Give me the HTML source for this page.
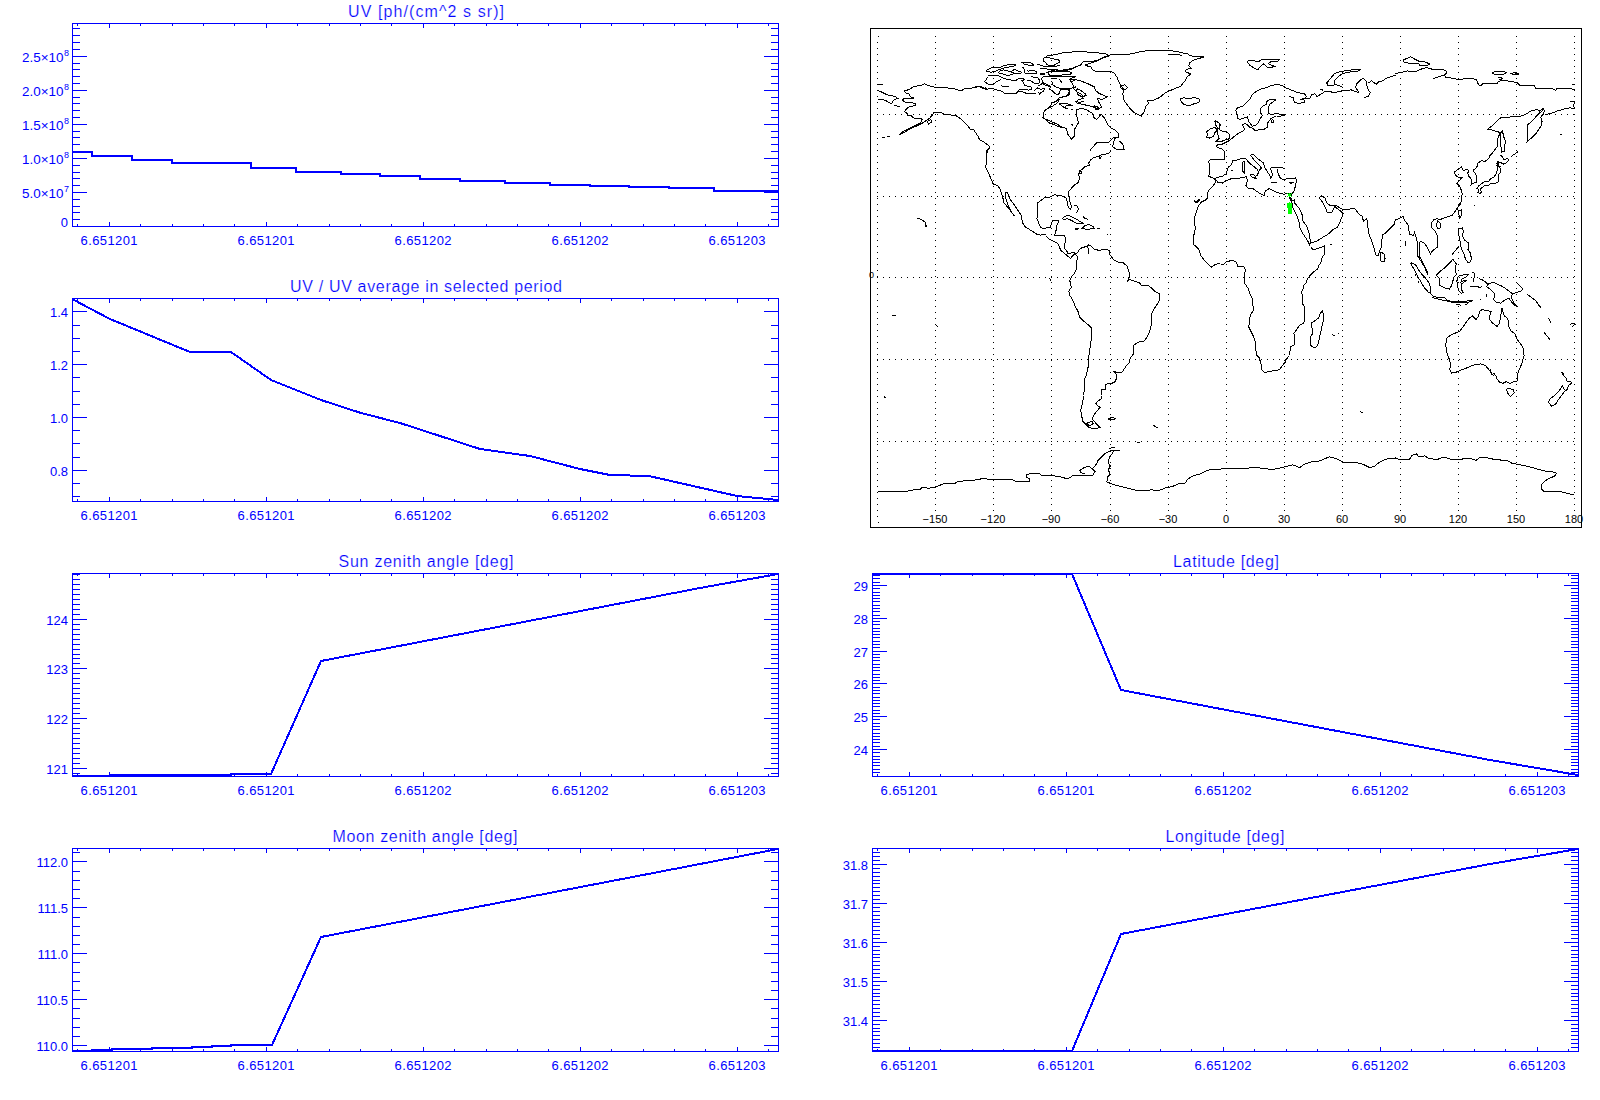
<!DOCTYPE html>
<html><head><meta charset="utf-8"><style>
html,body{margin:0;padding:0;background:#fff;overflow:hidden;width:1600px;height:1100px;}
svg{display:block;font-family:"Liberation Sans",sans-serif;}
</style></head><body>
<svg width="1600" height="1100" viewBox="0 0 1600 1100">
<rect width="1600" height="1100" fill="#fff"/>
<rect x="72" y="23" width="707" height="1" fill="#0000ff"/>
<rect x="72" y="226" width="707" height="1" fill="#0000ff"/>
<rect x="72" y="23" width="1" height="204" fill="#0000ff"/>
<rect x="778" y="23" width="1" height="204" fill="#0000ff"/>
<rect x="109" y="222" width="1" height="5" fill="#0000ff"/>
<rect x="109" y="23" width="1" height="5" fill="#0000ff"/>
<rect x="266" y="222" width="1" height="5" fill="#0000ff"/>
<rect x="266" y="23" width="1" height="5" fill="#0000ff"/>
<rect x="423" y="222" width="1" height="5" fill="#0000ff"/>
<rect x="423" y="23" width="1" height="5" fill="#0000ff"/>
<rect x="580" y="222" width="1" height="5" fill="#0000ff"/>
<rect x="580" y="23" width="1" height="5" fill="#0000ff"/>
<rect x="737" y="222" width="1" height="5" fill="#0000ff"/>
<rect x="737" y="23" width="1" height="5" fill="#0000ff"/>
<rect x="77" y="224" width="1" height="3" fill="#0000ff"/>
<rect x="77" y="23" width="1" height="3" fill="#0000ff"/>
<rect x="109" y="224" width="1" height="3" fill="#0000ff"/>
<rect x="109" y="23" width="1" height="3" fill="#0000ff"/>
<rect x="140" y="224" width="1" height="3" fill="#0000ff"/>
<rect x="140" y="23" width="1" height="3" fill="#0000ff"/>
<rect x="172" y="224" width="1" height="3" fill="#0000ff"/>
<rect x="172" y="23" width="1" height="3" fill="#0000ff"/>
<rect x="203" y="224" width="1" height="3" fill="#0000ff"/>
<rect x="203" y="23" width="1" height="3" fill="#0000ff"/>
<rect x="234" y="224" width="1" height="3" fill="#0000ff"/>
<rect x="234" y="23" width="1" height="3" fill="#0000ff"/>
<rect x="266" y="224" width="1" height="3" fill="#0000ff"/>
<rect x="266" y="23" width="1" height="3" fill="#0000ff"/>
<rect x="297" y="224" width="1" height="3" fill="#0000ff"/>
<rect x="297" y="23" width="1" height="3" fill="#0000ff"/>
<rect x="329" y="224" width="1" height="3" fill="#0000ff"/>
<rect x="329" y="23" width="1" height="3" fill="#0000ff"/>
<rect x="360" y="224" width="1" height="3" fill="#0000ff"/>
<rect x="360" y="23" width="1" height="3" fill="#0000ff"/>
<rect x="391" y="224" width="1" height="3" fill="#0000ff"/>
<rect x="391" y="23" width="1" height="3" fill="#0000ff"/>
<rect x="423" y="224" width="1" height="3" fill="#0000ff"/>
<rect x="423" y="23" width="1" height="3" fill="#0000ff"/>
<rect x="454" y="224" width="1" height="3" fill="#0000ff"/>
<rect x="454" y="23" width="1" height="3" fill="#0000ff"/>
<rect x="486" y="224" width="1" height="3" fill="#0000ff"/>
<rect x="486" y="23" width="1" height="3" fill="#0000ff"/>
<rect x="517" y="224" width="1" height="3" fill="#0000ff"/>
<rect x="517" y="23" width="1" height="3" fill="#0000ff"/>
<rect x="548" y="224" width="1" height="3" fill="#0000ff"/>
<rect x="548" y="23" width="1" height="3" fill="#0000ff"/>
<rect x="580" y="224" width="1" height="3" fill="#0000ff"/>
<rect x="580" y="23" width="1" height="3" fill="#0000ff"/>
<rect x="611" y="224" width="1" height="3" fill="#0000ff"/>
<rect x="611" y="23" width="1" height="3" fill="#0000ff"/>
<rect x="643" y="224" width="1" height="3" fill="#0000ff"/>
<rect x="643" y="23" width="1" height="3" fill="#0000ff"/>
<rect x="674" y="224" width="1" height="3" fill="#0000ff"/>
<rect x="674" y="23" width="1" height="3" fill="#0000ff"/>
<rect x="705" y="224" width="1" height="3" fill="#0000ff"/>
<rect x="705" y="23" width="1" height="3" fill="#0000ff"/>
<rect x="737" y="224" width="1" height="3" fill="#0000ff"/>
<rect x="737" y="23" width="1" height="3" fill="#0000ff"/>
<rect x="768" y="224" width="1" height="3" fill="#0000ff"/>
<rect x="768" y="23" width="1" height="3" fill="#0000ff"/>
<rect x="72" y="192" width="15" height="1" fill="#0000ff"/>
<rect x="764" y="192" width="15" height="1" fill="#0000ff"/>
<rect x="72" y="158" width="15" height="1" fill="#0000ff"/>
<rect x="764" y="158" width="15" height="1" fill="#0000ff"/>
<rect x="72" y="124" width="15" height="1" fill="#0000ff"/>
<rect x="764" y="124" width="15" height="1" fill="#0000ff"/>
<rect x="72" y="90" width="15" height="1" fill="#0000ff"/>
<rect x="764" y="90" width="15" height="1" fill="#0000ff"/>
<rect x="72" y="56" width="15" height="1" fill="#0000ff"/>
<rect x="764" y="56" width="15" height="1" fill="#0000ff"/>
<rect x="72" y="219" width="8" height="1" fill="#0000ff"/>
<rect x="771" y="219" width="8" height="1" fill="#0000ff"/>
<rect x="72" y="212" width="8" height="1" fill="#0000ff"/>
<rect x="771" y="212" width="8" height="1" fill="#0000ff"/>
<rect x="72" y="206" width="8" height="1" fill="#0000ff"/>
<rect x="771" y="206" width="8" height="1" fill="#0000ff"/>
<rect x="72" y="199" width="8" height="1" fill="#0000ff"/>
<rect x="771" y="199" width="8" height="1" fill="#0000ff"/>
<rect x="72" y="185" width="8" height="1" fill="#0000ff"/>
<rect x="771" y="185" width="8" height="1" fill="#0000ff"/>
<rect x="72" y="178" width="8" height="1" fill="#0000ff"/>
<rect x="771" y="178" width="8" height="1" fill="#0000ff"/>
<rect x="72" y="172" width="8" height="1" fill="#0000ff"/>
<rect x="771" y="172" width="8" height="1" fill="#0000ff"/>
<rect x="72" y="165" width="8" height="1" fill="#0000ff"/>
<rect x="771" y="165" width="8" height="1" fill="#0000ff"/>
<rect x="72" y="151" width="8" height="1" fill="#0000ff"/>
<rect x="771" y="151" width="8" height="1" fill="#0000ff"/>
<rect x="72" y="144" width="8" height="1" fill="#0000ff"/>
<rect x="771" y="144" width="8" height="1" fill="#0000ff"/>
<rect x="72" y="137" width="8" height="1" fill="#0000ff"/>
<rect x="771" y="137" width="8" height="1" fill="#0000ff"/>
<rect x="72" y="131" width="8" height="1" fill="#0000ff"/>
<rect x="771" y="131" width="8" height="1" fill="#0000ff"/>
<rect x="72" y="117" width="8" height="1" fill="#0000ff"/>
<rect x="771" y="117" width="8" height="1" fill="#0000ff"/>
<rect x="72" y="110" width="8" height="1" fill="#0000ff"/>
<rect x="771" y="110" width="8" height="1" fill="#0000ff"/>
<rect x="72" y="103" width="8" height="1" fill="#0000ff"/>
<rect x="771" y="103" width="8" height="1" fill="#0000ff"/>
<rect x="72" y="97" width="8" height="1" fill="#0000ff"/>
<rect x="771" y="97" width="8" height="1" fill="#0000ff"/>
<rect x="72" y="83" width="8" height="1" fill="#0000ff"/>
<rect x="771" y="83" width="8" height="1" fill="#0000ff"/>
<rect x="72" y="76" width="8" height="1" fill="#0000ff"/>
<rect x="771" y="76" width="8" height="1" fill="#0000ff"/>
<rect x="72" y="69" width="8" height="1" fill="#0000ff"/>
<rect x="771" y="69" width="8" height="1" fill="#0000ff"/>
<rect x="72" y="63" width="8" height="1" fill="#0000ff"/>
<rect x="771" y="63" width="8" height="1" fill="#0000ff"/>
<rect x="72" y="49" width="8" height="1" fill="#0000ff"/>
<rect x="771" y="49" width="8" height="1" fill="#0000ff"/>
<rect x="72" y="42" width="8" height="1" fill="#0000ff"/>
<rect x="771" y="42" width="8" height="1" fill="#0000ff"/>
<rect x="72" y="35" width="8" height="1" fill="#0000ff"/>
<rect x="771" y="35" width="8" height="1" fill="#0000ff"/>
<rect x="72" y="28" width="8" height="1" fill="#0000ff"/>
<rect x="771" y="28" width="8" height="1" fill="#0000ff"/>
<text x="426" y="17" font-size="16" text-anchor="middle" fill="#0000ff" textLength="156" lengthAdjust="spacing" stroke="#fff" stroke-width="0.2">UV [ph/(cm^2 s sr)]</text>
<text x="109" y="245" font-size="13" text-anchor="middle" fill="#0000ff" textLength="57" lengthAdjust="spacing">6.651201</text>
<text x="266" y="245" font-size="13" text-anchor="middle" fill="#0000ff" textLength="57" lengthAdjust="spacing">6.651201</text>
<text x="423" y="245" font-size="13" text-anchor="middle" fill="#0000ff" textLength="57" lengthAdjust="spacing">6.651202</text>
<text x="580" y="245" font-size="13" text-anchor="middle" fill="#0000ff" textLength="57" lengthAdjust="spacing">6.651202</text>
<text x="737" y="245" font-size="13" text-anchor="middle" fill="#0000ff" textLength="57" lengthAdjust="spacing">6.651203</text>
<polyline points="72,152 92,152 92,156 132,156 132,160 172,160 172,163 251,163 251,168 296,168 296,172 341,172 341,174 380,174 380,176 420,176 420,179 460,179 460,181 505,181 505,183 550,183 550,185 590,185 590,186 629,186 629,187 669,187 669,188 714,188 714,191 778,191" fill="none" stroke="#0000ff" stroke-width="2" stroke-linejoin="miter" shape-rendering="crispEdges"/>
<text x="22" y="62" font-size="13" fill="#0000ff" textLength="41.5" lengthAdjust="spacingAndGlyphs">2.5×10</text>
<text x="64" y="56" font-size="9" fill="#0000ff">8</text>
<text x="22" y="96" font-size="13" fill="#0000ff" textLength="41.5" lengthAdjust="spacingAndGlyphs">2.0×10</text>
<text x="64" y="90" font-size="9" fill="#0000ff">8</text>
<text x="22" y="130" font-size="13" fill="#0000ff" textLength="41.5" lengthAdjust="spacingAndGlyphs">1.5×10</text>
<text x="64" y="124" font-size="9" fill="#0000ff">8</text>
<text x="22" y="164" font-size="13" fill="#0000ff" textLength="41.5" lengthAdjust="spacingAndGlyphs">1.0×10</text>
<text x="64" y="158" font-size="9" fill="#0000ff">8</text>
<text x="22" y="198" font-size="13" fill="#0000ff" textLength="41.5" lengthAdjust="spacingAndGlyphs">5.0×10</text>
<text x="64" y="192" font-size="9" fill="#0000ff">7</text>
<text x="68" y="227" font-size="13" text-anchor="end" fill="#0000ff">0</text>
<rect x="72" y="298" width="707" height="1" fill="#0000ff"/>
<rect x="72" y="501" width="707" height="1" fill="#0000ff"/>
<rect x="72" y="298" width="1" height="204" fill="#0000ff"/>
<rect x="778" y="298" width="1" height="204" fill="#0000ff"/>
<rect x="109" y="497" width="1" height="5" fill="#0000ff"/>
<rect x="109" y="298" width="1" height="5" fill="#0000ff"/>
<rect x="266" y="497" width="1" height="5" fill="#0000ff"/>
<rect x="266" y="298" width="1" height="5" fill="#0000ff"/>
<rect x="423" y="497" width="1" height="5" fill="#0000ff"/>
<rect x="423" y="298" width="1" height="5" fill="#0000ff"/>
<rect x="580" y="497" width="1" height="5" fill="#0000ff"/>
<rect x="580" y="298" width="1" height="5" fill="#0000ff"/>
<rect x="737" y="497" width="1" height="5" fill="#0000ff"/>
<rect x="737" y="298" width="1" height="5" fill="#0000ff"/>
<rect x="77" y="499" width="1" height="3" fill="#0000ff"/>
<rect x="77" y="298" width="1" height="3" fill="#0000ff"/>
<rect x="109" y="499" width="1" height="3" fill="#0000ff"/>
<rect x="109" y="298" width="1" height="3" fill="#0000ff"/>
<rect x="140" y="499" width="1" height="3" fill="#0000ff"/>
<rect x="140" y="298" width="1" height="3" fill="#0000ff"/>
<rect x="172" y="499" width="1" height="3" fill="#0000ff"/>
<rect x="172" y="298" width="1" height="3" fill="#0000ff"/>
<rect x="203" y="499" width="1" height="3" fill="#0000ff"/>
<rect x="203" y="298" width="1" height="3" fill="#0000ff"/>
<rect x="234" y="499" width="1" height="3" fill="#0000ff"/>
<rect x="234" y="298" width="1" height="3" fill="#0000ff"/>
<rect x="266" y="499" width="1" height="3" fill="#0000ff"/>
<rect x="266" y="298" width="1" height="3" fill="#0000ff"/>
<rect x="297" y="499" width="1" height="3" fill="#0000ff"/>
<rect x="297" y="298" width="1" height="3" fill="#0000ff"/>
<rect x="329" y="499" width="1" height="3" fill="#0000ff"/>
<rect x="329" y="298" width="1" height="3" fill="#0000ff"/>
<rect x="360" y="499" width="1" height="3" fill="#0000ff"/>
<rect x="360" y="298" width="1" height="3" fill="#0000ff"/>
<rect x="391" y="499" width="1" height="3" fill="#0000ff"/>
<rect x="391" y="298" width="1" height="3" fill="#0000ff"/>
<rect x="423" y="499" width="1" height="3" fill="#0000ff"/>
<rect x="423" y="298" width="1" height="3" fill="#0000ff"/>
<rect x="454" y="499" width="1" height="3" fill="#0000ff"/>
<rect x="454" y="298" width="1" height="3" fill="#0000ff"/>
<rect x="486" y="499" width="1" height="3" fill="#0000ff"/>
<rect x="486" y="298" width="1" height="3" fill="#0000ff"/>
<rect x="517" y="499" width="1" height="3" fill="#0000ff"/>
<rect x="517" y="298" width="1" height="3" fill="#0000ff"/>
<rect x="548" y="499" width="1" height="3" fill="#0000ff"/>
<rect x="548" y="298" width="1" height="3" fill="#0000ff"/>
<rect x="580" y="499" width="1" height="3" fill="#0000ff"/>
<rect x="580" y="298" width="1" height="3" fill="#0000ff"/>
<rect x="611" y="499" width="1" height="3" fill="#0000ff"/>
<rect x="611" y="298" width="1" height="3" fill="#0000ff"/>
<rect x="643" y="499" width="1" height="3" fill="#0000ff"/>
<rect x="643" y="298" width="1" height="3" fill="#0000ff"/>
<rect x="674" y="499" width="1" height="3" fill="#0000ff"/>
<rect x="674" y="298" width="1" height="3" fill="#0000ff"/>
<rect x="705" y="499" width="1" height="3" fill="#0000ff"/>
<rect x="705" y="298" width="1" height="3" fill="#0000ff"/>
<rect x="737" y="499" width="1" height="3" fill="#0000ff"/>
<rect x="737" y="298" width="1" height="3" fill="#0000ff"/>
<rect x="768" y="499" width="1" height="3" fill="#0000ff"/>
<rect x="768" y="298" width="1" height="3" fill="#0000ff"/>
<rect x="72" y="311" width="15" height="1" fill="#0000ff"/>
<rect x="764" y="311" width="15" height="1" fill="#0000ff"/>
<rect x="72" y="364" width="15" height="1" fill="#0000ff"/>
<rect x="764" y="364" width="15" height="1" fill="#0000ff"/>
<rect x="72" y="417" width="15" height="1" fill="#0000ff"/>
<rect x="764" y="417" width="15" height="1" fill="#0000ff"/>
<rect x="72" y="470" width="15" height="1" fill="#0000ff"/>
<rect x="764" y="470" width="15" height="1" fill="#0000ff"/>
<rect x="72" y="325" width="8" height="1" fill="#0000ff"/>
<rect x="771" y="325" width="8" height="1" fill="#0000ff"/>
<rect x="72" y="338" width="8" height="1" fill="#0000ff"/>
<rect x="771" y="338" width="8" height="1" fill="#0000ff"/>
<rect x="72" y="351" width="8" height="1" fill="#0000ff"/>
<rect x="771" y="351" width="8" height="1" fill="#0000ff"/>
<rect x="72" y="377" width="8" height="1" fill="#0000ff"/>
<rect x="771" y="377" width="8" height="1" fill="#0000ff"/>
<rect x="72" y="391" width="8" height="1" fill="#0000ff"/>
<rect x="771" y="391" width="8" height="1" fill="#0000ff"/>
<rect x="72" y="404" width="8" height="1" fill="#0000ff"/>
<rect x="771" y="404" width="8" height="1" fill="#0000ff"/>
<rect x="72" y="430" width="8" height="1" fill="#0000ff"/>
<rect x="771" y="430" width="8" height="1" fill="#0000ff"/>
<rect x="72" y="443" width="8" height="1" fill="#0000ff"/>
<rect x="771" y="443" width="8" height="1" fill="#0000ff"/>
<rect x="72" y="457" width="8" height="1" fill="#0000ff"/>
<rect x="771" y="457" width="8" height="1" fill="#0000ff"/>
<rect x="72" y="483" width="8" height="1" fill="#0000ff"/>
<rect x="771" y="483" width="8" height="1" fill="#0000ff"/>
<rect x="72" y="496" width="8" height="1" fill="#0000ff"/>
<rect x="771" y="496" width="8" height="1" fill="#0000ff"/>
<text x="426" y="292" font-size="16" text-anchor="middle" fill="#0000ff" textLength="272" lengthAdjust="spacing" stroke="#fff" stroke-width="0.2">UV / UV average in selected period</text>
<text x="109" y="520" font-size="13" text-anchor="middle" fill="#0000ff" textLength="57" lengthAdjust="spacing">6.651201</text>
<text x="266" y="520" font-size="13" text-anchor="middle" fill="#0000ff" textLength="57" lengthAdjust="spacing">6.651201</text>
<text x="423" y="520" font-size="13" text-anchor="middle" fill="#0000ff" textLength="57" lengthAdjust="spacing">6.651202</text>
<text x="580" y="520" font-size="13" text-anchor="middle" fill="#0000ff" textLength="57" lengthAdjust="spacing">6.651202</text>
<text x="737" y="520" font-size="13" text-anchor="middle" fill="#0000ff" textLength="57" lengthAdjust="spacing">6.651203</text>
<text x="68" y="317" font-size="13" text-anchor="end" fill="#0000ff">1.4</text>
<text x="68" y="370" font-size="13" text-anchor="end" fill="#0000ff">1.2</text>
<text x="68" y="423" font-size="13" text-anchor="end" fill="#0000ff">1.0</text>
<text x="68" y="476" font-size="13" text-anchor="end" fill="#0000ff">0.8</text>
<polyline points="72,299 110,319 190,352 231,352 271,380 321,400 361,413 400,423 480,449 530,456 580,469 610,475 649,476 737,496 778,500" fill="none" stroke="#0000ff" stroke-width="2" stroke-linejoin="miter" shape-rendering="crispEdges"/>
<rect x="72" y="573" width="707" height="1" fill="#0000ff"/>
<rect x="72" y="776" width="707" height="1" fill="#0000ff"/>
<rect x="72" y="573" width="1" height="204" fill="#0000ff"/>
<rect x="778" y="573" width="1" height="204" fill="#0000ff"/>
<rect x="109" y="772" width="1" height="5" fill="#0000ff"/>
<rect x="109" y="573" width="1" height="5" fill="#0000ff"/>
<rect x="266" y="772" width="1" height="5" fill="#0000ff"/>
<rect x="266" y="573" width="1" height="5" fill="#0000ff"/>
<rect x="423" y="772" width="1" height="5" fill="#0000ff"/>
<rect x="423" y="573" width="1" height="5" fill="#0000ff"/>
<rect x="580" y="772" width="1" height="5" fill="#0000ff"/>
<rect x="580" y="573" width="1" height="5" fill="#0000ff"/>
<rect x="737" y="772" width="1" height="5" fill="#0000ff"/>
<rect x="737" y="573" width="1" height="5" fill="#0000ff"/>
<rect x="77" y="774" width="1" height="3" fill="#0000ff"/>
<rect x="77" y="573" width="1" height="3" fill="#0000ff"/>
<rect x="109" y="774" width="1" height="3" fill="#0000ff"/>
<rect x="109" y="573" width="1" height="3" fill="#0000ff"/>
<rect x="140" y="774" width="1" height="3" fill="#0000ff"/>
<rect x="140" y="573" width="1" height="3" fill="#0000ff"/>
<rect x="172" y="774" width="1" height="3" fill="#0000ff"/>
<rect x="172" y="573" width="1" height="3" fill="#0000ff"/>
<rect x="203" y="774" width="1" height="3" fill="#0000ff"/>
<rect x="203" y="573" width="1" height="3" fill="#0000ff"/>
<rect x="234" y="774" width="1" height="3" fill="#0000ff"/>
<rect x="234" y="573" width="1" height="3" fill="#0000ff"/>
<rect x="266" y="774" width="1" height="3" fill="#0000ff"/>
<rect x="266" y="573" width="1" height="3" fill="#0000ff"/>
<rect x="297" y="774" width="1" height="3" fill="#0000ff"/>
<rect x="297" y="573" width="1" height="3" fill="#0000ff"/>
<rect x="329" y="774" width="1" height="3" fill="#0000ff"/>
<rect x="329" y="573" width="1" height="3" fill="#0000ff"/>
<rect x="360" y="774" width="1" height="3" fill="#0000ff"/>
<rect x="360" y="573" width="1" height="3" fill="#0000ff"/>
<rect x="391" y="774" width="1" height="3" fill="#0000ff"/>
<rect x="391" y="573" width="1" height="3" fill="#0000ff"/>
<rect x="423" y="774" width="1" height="3" fill="#0000ff"/>
<rect x="423" y="573" width="1" height="3" fill="#0000ff"/>
<rect x="454" y="774" width="1" height="3" fill="#0000ff"/>
<rect x="454" y="573" width="1" height="3" fill="#0000ff"/>
<rect x="486" y="774" width="1" height="3" fill="#0000ff"/>
<rect x="486" y="573" width="1" height="3" fill="#0000ff"/>
<rect x="517" y="774" width="1" height="3" fill="#0000ff"/>
<rect x="517" y="573" width="1" height="3" fill="#0000ff"/>
<rect x="548" y="774" width="1" height="3" fill="#0000ff"/>
<rect x="548" y="573" width="1" height="3" fill="#0000ff"/>
<rect x="580" y="774" width="1" height="3" fill="#0000ff"/>
<rect x="580" y="573" width="1" height="3" fill="#0000ff"/>
<rect x="611" y="774" width="1" height="3" fill="#0000ff"/>
<rect x="611" y="573" width="1" height="3" fill="#0000ff"/>
<rect x="643" y="774" width="1" height="3" fill="#0000ff"/>
<rect x="643" y="573" width="1" height="3" fill="#0000ff"/>
<rect x="674" y="774" width="1" height="3" fill="#0000ff"/>
<rect x="674" y="573" width="1" height="3" fill="#0000ff"/>
<rect x="705" y="774" width="1" height="3" fill="#0000ff"/>
<rect x="705" y="573" width="1" height="3" fill="#0000ff"/>
<rect x="737" y="774" width="1" height="3" fill="#0000ff"/>
<rect x="737" y="573" width="1" height="3" fill="#0000ff"/>
<rect x="768" y="774" width="1" height="3" fill="#0000ff"/>
<rect x="768" y="573" width="1" height="3" fill="#0000ff"/>
<rect x="72" y="619" width="15" height="1" fill="#0000ff"/>
<rect x="764" y="619" width="15" height="1" fill="#0000ff"/>
<rect x="72" y="668" width="15" height="1" fill="#0000ff"/>
<rect x="764" y="668" width="15" height="1" fill="#0000ff"/>
<rect x="72" y="718" width="15" height="1" fill="#0000ff"/>
<rect x="764" y="718" width="15" height="1" fill="#0000ff"/>
<rect x="72" y="768" width="15" height="1" fill="#0000ff"/>
<rect x="764" y="768" width="15" height="1" fill="#0000ff"/>
<rect x="72" y="574" width="8" height="1" fill="#0000ff"/>
<rect x="771" y="574" width="8" height="1" fill="#0000ff"/>
<rect x="72" y="579" width="8" height="1" fill="#0000ff"/>
<rect x="771" y="579" width="8" height="1" fill="#0000ff"/>
<rect x="72" y="584" width="8" height="1" fill="#0000ff"/>
<rect x="771" y="584" width="8" height="1" fill="#0000ff"/>
<rect x="72" y="589" width="8" height="1" fill="#0000ff"/>
<rect x="771" y="589" width="8" height="1" fill="#0000ff"/>
<rect x="72" y="594" width="8" height="1" fill="#0000ff"/>
<rect x="771" y="594" width="8" height="1" fill="#0000ff"/>
<rect x="72" y="599" width="8" height="1" fill="#0000ff"/>
<rect x="771" y="599" width="8" height="1" fill="#0000ff"/>
<rect x="72" y="604" width="8" height="1" fill="#0000ff"/>
<rect x="771" y="604" width="8" height="1" fill="#0000ff"/>
<rect x="72" y="609" width="8" height="1" fill="#0000ff"/>
<rect x="771" y="609" width="8" height="1" fill="#0000ff"/>
<rect x="72" y="614" width="8" height="1" fill="#0000ff"/>
<rect x="771" y="614" width="8" height="1" fill="#0000ff"/>
<rect x="72" y="624" width="8" height="1" fill="#0000ff"/>
<rect x="771" y="624" width="8" height="1" fill="#0000ff"/>
<rect x="72" y="629" width="8" height="1" fill="#0000ff"/>
<rect x="771" y="629" width="8" height="1" fill="#0000ff"/>
<rect x="72" y="634" width="8" height="1" fill="#0000ff"/>
<rect x="771" y="634" width="8" height="1" fill="#0000ff"/>
<rect x="72" y="639" width="8" height="1" fill="#0000ff"/>
<rect x="771" y="639" width="8" height="1" fill="#0000ff"/>
<rect x="72" y="644" width="8" height="1" fill="#0000ff"/>
<rect x="771" y="644" width="8" height="1" fill="#0000ff"/>
<rect x="72" y="649" width="8" height="1" fill="#0000ff"/>
<rect x="771" y="649" width="8" height="1" fill="#0000ff"/>
<rect x="72" y="654" width="8" height="1" fill="#0000ff"/>
<rect x="771" y="654" width="8" height="1" fill="#0000ff"/>
<rect x="72" y="658" width="8" height="1" fill="#0000ff"/>
<rect x="771" y="658" width="8" height="1" fill="#0000ff"/>
<rect x="72" y="663" width="8" height="1" fill="#0000ff"/>
<rect x="771" y="663" width="8" height="1" fill="#0000ff"/>
<rect x="72" y="673" width="8" height="1" fill="#0000ff"/>
<rect x="771" y="673" width="8" height="1" fill="#0000ff"/>
<rect x="72" y="678" width="8" height="1" fill="#0000ff"/>
<rect x="771" y="678" width="8" height="1" fill="#0000ff"/>
<rect x="72" y="683" width="8" height="1" fill="#0000ff"/>
<rect x="771" y="683" width="8" height="1" fill="#0000ff"/>
<rect x="72" y="688" width="8" height="1" fill="#0000ff"/>
<rect x="771" y="688" width="8" height="1" fill="#0000ff"/>
<rect x="72" y="693" width="8" height="1" fill="#0000ff"/>
<rect x="771" y="693" width="8" height="1" fill="#0000ff"/>
<rect x="72" y="698" width="8" height="1" fill="#0000ff"/>
<rect x="771" y="698" width="8" height="1" fill="#0000ff"/>
<rect x="72" y="703" width="8" height="1" fill="#0000ff"/>
<rect x="771" y="703" width="8" height="1" fill="#0000ff"/>
<rect x="72" y="708" width="8" height="1" fill="#0000ff"/>
<rect x="771" y="708" width="8" height="1" fill="#0000ff"/>
<rect x="72" y="713" width="8" height="1" fill="#0000ff"/>
<rect x="771" y="713" width="8" height="1" fill="#0000ff"/>
<rect x="72" y="723" width="8" height="1" fill="#0000ff"/>
<rect x="771" y="723" width="8" height="1" fill="#0000ff"/>
<rect x="72" y="728" width="8" height="1" fill="#0000ff"/>
<rect x="771" y="728" width="8" height="1" fill="#0000ff"/>
<rect x="72" y="733" width="8" height="1" fill="#0000ff"/>
<rect x="771" y="733" width="8" height="1" fill="#0000ff"/>
<rect x="72" y="738" width="8" height="1" fill="#0000ff"/>
<rect x="771" y="738" width="8" height="1" fill="#0000ff"/>
<rect x="72" y="743" width="8" height="1" fill="#0000ff"/>
<rect x="771" y="743" width="8" height="1" fill="#0000ff"/>
<rect x="72" y="748" width="8" height="1" fill="#0000ff"/>
<rect x="771" y="748" width="8" height="1" fill="#0000ff"/>
<rect x="72" y="753" width="8" height="1" fill="#0000ff"/>
<rect x="771" y="753" width="8" height="1" fill="#0000ff"/>
<rect x="72" y="758" width="8" height="1" fill="#0000ff"/>
<rect x="771" y="758" width="8" height="1" fill="#0000ff"/>
<rect x="72" y="763" width="8" height="1" fill="#0000ff"/>
<rect x="771" y="763" width="8" height="1" fill="#0000ff"/>
<rect x="72" y="773" width="8" height="1" fill="#0000ff"/>
<rect x="771" y="773" width="8" height="1" fill="#0000ff"/>
<text x="426" y="567" font-size="16" text-anchor="middle" fill="#0000ff" textLength="175" lengthAdjust="spacing" stroke="#fff" stroke-width="0.2">Sun zenith angle [deg]</text>
<text x="109" y="795" font-size="13" text-anchor="middle" fill="#0000ff" textLength="57" lengthAdjust="spacing">6.651201</text>
<text x="266" y="795" font-size="13" text-anchor="middle" fill="#0000ff" textLength="57" lengthAdjust="spacing">6.651201</text>
<text x="423" y="795" font-size="13" text-anchor="middle" fill="#0000ff" textLength="57" lengthAdjust="spacing">6.651202</text>
<text x="580" y="795" font-size="13" text-anchor="middle" fill="#0000ff" textLength="57" lengthAdjust="spacing">6.651202</text>
<text x="737" y="795" font-size="13" text-anchor="middle" fill="#0000ff" textLength="57" lengthAdjust="spacing">6.651203</text>
<text x="68" y="625" font-size="13" text-anchor="end" fill="#0000ff">124</text>
<text x="68" y="674" font-size="13" text-anchor="end" fill="#0000ff">123</text>
<text x="68" y="724" font-size="13" text-anchor="end" fill="#0000ff">122</text>
<text x="68" y="774" font-size="13" text-anchor="end" fill="#0000ff">121</text>
<polyline points="72,776 111,776 111,775 231,775 231,774 271,774 321,661 700,588 778,574" fill="none" stroke="#0000ff" stroke-width="2" stroke-linejoin="miter" shape-rendering="crispEdges"/>
<rect x="72" y="848" width="707" height="1" fill="#0000ff"/>
<rect x="72" y="1051" width="707" height="1" fill="#0000ff"/>
<rect x="72" y="848" width="1" height="204" fill="#0000ff"/>
<rect x="778" y="848" width="1" height="204" fill="#0000ff"/>
<rect x="109" y="1047" width="1" height="5" fill="#0000ff"/>
<rect x="109" y="848" width="1" height="5" fill="#0000ff"/>
<rect x="266" y="1047" width="1" height="5" fill="#0000ff"/>
<rect x="266" y="848" width="1" height="5" fill="#0000ff"/>
<rect x="423" y="1047" width="1" height="5" fill="#0000ff"/>
<rect x="423" y="848" width="1" height="5" fill="#0000ff"/>
<rect x="580" y="1047" width="1" height="5" fill="#0000ff"/>
<rect x="580" y="848" width="1" height="5" fill="#0000ff"/>
<rect x="737" y="1047" width="1" height="5" fill="#0000ff"/>
<rect x="737" y="848" width="1" height="5" fill="#0000ff"/>
<rect x="77" y="1049" width="1" height="3" fill="#0000ff"/>
<rect x="77" y="848" width="1" height="3" fill="#0000ff"/>
<rect x="109" y="1049" width="1" height="3" fill="#0000ff"/>
<rect x="109" y="848" width="1" height="3" fill="#0000ff"/>
<rect x="140" y="1049" width="1" height="3" fill="#0000ff"/>
<rect x="140" y="848" width="1" height="3" fill="#0000ff"/>
<rect x="172" y="1049" width="1" height="3" fill="#0000ff"/>
<rect x="172" y="848" width="1" height="3" fill="#0000ff"/>
<rect x="203" y="1049" width="1" height="3" fill="#0000ff"/>
<rect x="203" y="848" width="1" height="3" fill="#0000ff"/>
<rect x="234" y="1049" width="1" height="3" fill="#0000ff"/>
<rect x="234" y="848" width="1" height="3" fill="#0000ff"/>
<rect x="266" y="1049" width="1" height="3" fill="#0000ff"/>
<rect x="266" y="848" width="1" height="3" fill="#0000ff"/>
<rect x="297" y="1049" width="1" height="3" fill="#0000ff"/>
<rect x="297" y="848" width="1" height="3" fill="#0000ff"/>
<rect x="329" y="1049" width="1" height="3" fill="#0000ff"/>
<rect x="329" y="848" width="1" height="3" fill="#0000ff"/>
<rect x="360" y="1049" width="1" height="3" fill="#0000ff"/>
<rect x="360" y="848" width="1" height="3" fill="#0000ff"/>
<rect x="391" y="1049" width="1" height="3" fill="#0000ff"/>
<rect x="391" y="848" width="1" height="3" fill="#0000ff"/>
<rect x="423" y="1049" width="1" height="3" fill="#0000ff"/>
<rect x="423" y="848" width="1" height="3" fill="#0000ff"/>
<rect x="454" y="1049" width="1" height="3" fill="#0000ff"/>
<rect x="454" y="848" width="1" height="3" fill="#0000ff"/>
<rect x="486" y="1049" width="1" height="3" fill="#0000ff"/>
<rect x="486" y="848" width="1" height="3" fill="#0000ff"/>
<rect x="517" y="1049" width="1" height="3" fill="#0000ff"/>
<rect x="517" y="848" width="1" height="3" fill="#0000ff"/>
<rect x="548" y="1049" width="1" height="3" fill="#0000ff"/>
<rect x="548" y="848" width="1" height="3" fill="#0000ff"/>
<rect x="580" y="1049" width="1" height="3" fill="#0000ff"/>
<rect x="580" y="848" width="1" height="3" fill="#0000ff"/>
<rect x="611" y="1049" width="1" height="3" fill="#0000ff"/>
<rect x="611" y="848" width="1" height="3" fill="#0000ff"/>
<rect x="643" y="1049" width="1" height="3" fill="#0000ff"/>
<rect x="643" y="848" width="1" height="3" fill="#0000ff"/>
<rect x="674" y="1049" width="1" height="3" fill="#0000ff"/>
<rect x="674" y="848" width="1" height="3" fill="#0000ff"/>
<rect x="705" y="1049" width="1" height="3" fill="#0000ff"/>
<rect x="705" y="848" width="1" height="3" fill="#0000ff"/>
<rect x="737" y="1049" width="1" height="3" fill="#0000ff"/>
<rect x="737" y="848" width="1" height="3" fill="#0000ff"/>
<rect x="768" y="1049" width="1" height="3" fill="#0000ff"/>
<rect x="768" y="848" width="1" height="3" fill="#0000ff"/>
<rect x="72" y="1045" width="15" height="1" fill="#0000ff"/>
<rect x="764" y="1045" width="15" height="1" fill="#0000ff"/>
<rect x="72" y="999" width="15" height="1" fill="#0000ff"/>
<rect x="764" y="999" width="15" height="1" fill="#0000ff"/>
<rect x="72" y="953" width="15" height="1" fill="#0000ff"/>
<rect x="764" y="953" width="15" height="1" fill="#0000ff"/>
<rect x="72" y="907" width="15" height="1" fill="#0000ff"/>
<rect x="764" y="907" width="15" height="1" fill="#0000ff"/>
<rect x="72" y="861" width="15" height="1" fill="#0000ff"/>
<rect x="764" y="861" width="15" height="1" fill="#0000ff"/>
<rect x="72" y="1036" width="8" height="1" fill="#0000ff"/>
<rect x="771" y="1036" width="8" height="1" fill="#0000ff"/>
<rect x="72" y="1027" width="8" height="1" fill="#0000ff"/>
<rect x="771" y="1027" width="8" height="1" fill="#0000ff"/>
<rect x="72" y="1018" width="8" height="1" fill="#0000ff"/>
<rect x="771" y="1018" width="8" height="1" fill="#0000ff"/>
<rect x="72" y="1008" width="8" height="1" fill="#0000ff"/>
<rect x="771" y="1008" width="8" height="1" fill="#0000ff"/>
<rect x="72" y="990" width="8" height="1" fill="#0000ff"/>
<rect x="771" y="990" width="8" height="1" fill="#0000ff"/>
<rect x="72" y="981" width="8" height="1" fill="#0000ff"/>
<rect x="771" y="981" width="8" height="1" fill="#0000ff"/>
<rect x="72" y="972" width="8" height="1" fill="#0000ff"/>
<rect x="771" y="972" width="8" height="1" fill="#0000ff"/>
<rect x="72" y="962" width="8" height="1" fill="#0000ff"/>
<rect x="771" y="962" width="8" height="1" fill="#0000ff"/>
<rect x="72" y="944" width="8" height="1" fill="#0000ff"/>
<rect x="771" y="944" width="8" height="1" fill="#0000ff"/>
<rect x="72" y="935" width="8" height="1" fill="#0000ff"/>
<rect x="771" y="935" width="8" height="1" fill="#0000ff"/>
<rect x="72" y="926" width="8" height="1" fill="#0000ff"/>
<rect x="771" y="926" width="8" height="1" fill="#0000ff"/>
<rect x="72" y="917" width="8" height="1" fill="#0000ff"/>
<rect x="771" y="917" width="8" height="1" fill="#0000ff"/>
<rect x="72" y="898" width="8" height="1" fill="#0000ff"/>
<rect x="771" y="898" width="8" height="1" fill="#0000ff"/>
<rect x="72" y="889" width="8" height="1" fill="#0000ff"/>
<rect x="771" y="889" width="8" height="1" fill="#0000ff"/>
<rect x="72" y="880" width="8" height="1" fill="#0000ff"/>
<rect x="771" y="880" width="8" height="1" fill="#0000ff"/>
<rect x="72" y="871" width="8" height="1" fill="#0000ff"/>
<rect x="771" y="871" width="8" height="1" fill="#0000ff"/>
<rect x="72" y="852" width="8" height="1" fill="#0000ff"/>
<rect x="771" y="852" width="8" height="1" fill="#0000ff"/>
<text x="425" y="842" font-size="16" text-anchor="middle" fill="#0000ff" textLength="185" lengthAdjust="spacing" stroke="#fff" stroke-width="0.2">Moon zenith angle [deg]</text>
<text x="109" y="1070" font-size="13" text-anchor="middle" fill="#0000ff" textLength="57" lengthAdjust="spacing">6.651201</text>
<text x="266" y="1070" font-size="13" text-anchor="middle" fill="#0000ff" textLength="57" lengthAdjust="spacing">6.651201</text>
<text x="423" y="1070" font-size="13" text-anchor="middle" fill="#0000ff" textLength="57" lengthAdjust="spacing">6.651202</text>
<text x="580" y="1070" font-size="13" text-anchor="middle" fill="#0000ff" textLength="57" lengthAdjust="spacing">6.651202</text>
<text x="737" y="1070" font-size="13" text-anchor="middle" fill="#0000ff" textLength="57" lengthAdjust="spacing">6.651203</text>
<text x="68" y="1051" font-size="13" text-anchor="end" fill="#0000ff">110.0</text>
<text x="68" y="1005" font-size="13" text-anchor="end" fill="#0000ff">110.5</text>
<text x="68" y="959" font-size="13" text-anchor="end" fill="#0000ff">111.0</text>
<text x="68" y="913" font-size="13" text-anchor="end" fill="#0000ff">111.5</text>
<text x="68" y="867" font-size="13" text-anchor="end" fill="#0000ff">112.0</text>
<polyline points="72,1051 92,1051 92,1050 112,1050 112,1049 152,1049 152,1048 192,1048 192,1047 212,1047 212,1046 231,1046 231,1045 272,1045 321,937 700,864 778,849" fill="none" stroke="#0000ff" stroke-width="2" stroke-linejoin="miter" shape-rendering="crispEdges"/>
<rect x="872" y="573" width="707" height="1" fill="#0000ff"/>
<rect x="872" y="776" width="707" height="1" fill="#0000ff"/>
<rect x="872" y="573" width="1" height="204" fill="#0000ff"/>
<rect x="1578" y="573" width="1" height="204" fill="#0000ff"/>
<rect x="909" y="772" width="1" height="5" fill="#0000ff"/>
<rect x="909" y="573" width="1" height="5" fill="#0000ff"/>
<rect x="1066" y="772" width="1" height="5" fill="#0000ff"/>
<rect x="1066" y="573" width="1" height="5" fill="#0000ff"/>
<rect x="1223" y="772" width="1" height="5" fill="#0000ff"/>
<rect x="1223" y="573" width="1" height="5" fill="#0000ff"/>
<rect x="1380" y="772" width="1" height="5" fill="#0000ff"/>
<rect x="1380" y="573" width="1" height="5" fill="#0000ff"/>
<rect x="1537" y="772" width="1" height="5" fill="#0000ff"/>
<rect x="1537" y="573" width="1" height="5" fill="#0000ff"/>
<rect x="877" y="774" width="1" height="3" fill="#0000ff"/>
<rect x="877" y="573" width="1" height="3" fill="#0000ff"/>
<rect x="909" y="774" width="1" height="3" fill="#0000ff"/>
<rect x="909" y="573" width="1" height="3" fill="#0000ff"/>
<rect x="940" y="774" width="1" height="3" fill="#0000ff"/>
<rect x="940" y="573" width="1" height="3" fill="#0000ff"/>
<rect x="972" y="774" width="1" height="3" fill="#0000ff"/>
<rect x="972" y="573" width="1" height="3" fill="#0000ff"/>
<rect x="1003" y="774" width="1" height="3" fill="#0000ff"/>
<rect x="1003" y="573" width="1" height="3" fill="#0000ff"/>
<rect x="1034" y="774" width="1" height="3" fill="#0000ff"/>
<rect x="1034" y="573" width="1" height="3" fill="#0000ff"/>
<rect x="1066" y="774" width="1" height="3" fill="#0000ff"/>
<rect x="1066" y="573" width="1" height="3" fill="#0000ff"/>
<rect x="1097" y="774" width="1" height="3" fill="#0000ff"/>
<rect x="1097" y="573" width="1" height="3" fill="#0000ff"/>
<rect x="1129" y="774" width="1" height="3" fill="#0000ff"/>
<rect x="1129" y="573" width="1" height="3" fill="#0000ff"/>
<rect x="1160" y="774" width="1" height="3" fill="#0000ff"/>
<rect x="1160" y="573" width="1" height="3" fill="#0000ff"/>
<rect x="1191" y="774" width="1" height="3" fill="#0000ff"/>
<rect x="1191" y="573" width="1" height="3" fill="#0000ff"/>
<rect x="1223" y="774" width="1" height="3" fill="#0000ff"/>
<rect x="1223" y="573" width="1" height="3" fill="#0000ff"/>
<rect x="1254" y="774" width="1" height="3" fill="#0000ff"/>
<rect x="1254" y="573" width="1" height="3" fill="#0000ff"/>
<rect x="1286" y="774" width="1" height="3" fill="#0000ff"/>
<rect x="1286" y="573" width="1" height="3" fill="#0000ff"/>
<rect x="1317" y="774" width="1" height="3" fill="#0000ff"/>
<rect x="1317" y="573" width="1" height="3" fill="#0000ff"/>
<rect x="1348" y="774" width="1" height="3" fill="#0000ff"/>
<rect x="1348" y="573" width="1" height="3" fill="#0000ff"/>
<rect x="1380" y="774" width="1" height="3" fill="#0000ff"/>
<rect x="1380" y="573" width="1" height="3" fill="#0000ff"/>
<rect x="1411" y="774" width="1" height="3" fill="#0000ff"/>
<rect x="1411" y="573" width="1" height="3" fill="#0000ff"/>
<rect x="1443" y="774" width="1" height="3" fill="#0000ff"/>
<rect x="1443" y="573" width="1" height="3" fill="#0000ff"/>
<rect x="1474" y="774" width="1" height="3" fill="#0000ff"/>
<rect x="1474" y="573" width="1" height="3" fill="#0000ff"/>
<rect x="1505" y="774" width="1" height="3" fill="#0000ff"/>
<rect x="1505" y="573" width="1" height="3" fill="#0000ff"/>
<rect x="1537" y="774" width="1" height="3" fill="#0000ff"/>
<rect x="1537" y="573" width="1" height="3" fill="#0000ff"/>
<rect x="1568" y="774" width="1" height="3" fill="#0000ff"/>
<rect x="1568" y="573" width="1" height="3" fill="#0000ff"/>
<rect x="872" y="585" width="15" height="1" fill="#0000ff"/>
<rect x="1564" y="585" width="15" height="1" fill="#0000ff"/>
<rect x="872" y="618" width="15" height="1" fill="#0000ff"/>
<rect x="1564" y="618" width="15" height="1" fill="#0000ff"/>
<rect x="872" y="651" width="15" height="1" fill="#0000ff"/>
<rect x="1564" y="651" width="15" height="1" fill="#0000ff"/>
<rect x="872" y="683" width="15" height="1" fill="#0000ff"/>
<rect x="1564" y="683" width="15" height="1" fill="#0000ff"/>
<rect x="872" y="716" width="15" height="1" fill="#0000ff"/>
<rect x="1564" y="716" width="15" height="1" fill="#0000ff"/>
<rect x="872" y="749" width="15" height="1" fill="#0000ff"/>
<rect x="1564" y="749" width="15" height="1" fill="#0000ff"/>
<rect x="872" y="575" width="8" height="1" fill="#0000ff"/>
<rect x="1571" y="575" width="8" height="1" fill="#0000ff"/>
<rect x="872" y="578" width="8" height="1" fill="#0000ff"/>
<rect x="1571" y="578" width="8" height="1" fill="#0000ff"/>
<rect x="872" y="582" width="8" height="1" fill="#0000ff"/>
<rect x="1571" y="582" width="8" height="1" fill="#0000ff"/>
<rect x="872" y="588" width="8" height="1" fill="#0000ff"/>
<rect x="1571" y="588" width="8" height="1" fill="#0000ff"/>
<rect x="872" y="592" width="8" height="1" fill="#0000ff"/>
<rect x="1571" y="592" width="8" height="1" fill="#0000ff"/>
<rect x="872" y="595" width="8" height="1" fill="#0000ff"/>
<rect x="1571" y="595" width="8" height="1" fill="#0000ff"/>
<rect x="872" y="598" width="8" height="1" fill="#0000ff"/>
<rect x="1571" y="598" width="8" height="1" fill="#0000ff"/>
<rect x="872" y="601" width="8" height="1" fill="#0000ff"/>
<rect x="1571" y="601" width="8" height="1" fill="#0000ff"/>
<rect x="872" y="605" width="8" height="1" fill="#0000ff"/>
<rect x="1571" y="605" width="8" height="1" fill="#0000ff"/>
<rect x="872" y="608" width="8" height="1" fill="#0000ff"/>
<rect x="1571" y="608" width="8" height="1" fill="#0000ff"/>
<rect x="872" y="611" width="8" height="1" fill="#0000ff"/>
<rect x="1571" y="611" width="8" height="1" fill="#0000ff"/>
<rect x="872" y="615" width="8" height="1" fill="#0000ff"/>
<rect x="1571" y="615" width="8" height="1" fill="#0000ff"/>
<rect x="872" y="621" width="8" height="1" fill="#0000ff"/>
<rect x="1571" y="621" width="8" height="1" fill="#0000ff"/>
<rect x="872" y="624" width="8" height="1" fill="#0000ff"/>
<rect x="1571" y="624" width="8" height="1" fill="#0000ff"/>
<rect x="872" y="628" width="8" height="1" fill="#0000ff"/>
<rect x="1571" y="628" width="8" height="1" fill="#0000ff"/>
<rect x="872" y="631" width="8" height="1" fill="#0000ff"/>
<rect x="1571" y="631" width="8" height="1" fill="#0000ff"/>
<rect x="872" y="634" width="8" height="1" fill="#0000ff"/>
<rect x="1571" y="634" width="8" height="1" fill="#0000ff"/>
<rect x="872" y="637" width="8" height="1" fill="#0000ff"/>
<rect x="1571" y="637" width="8" height="1" fill="#0000ff"/>
<rect x="872" y="641" width="8" height="1" fill="#0000ff"/>
<rect x="1571" y="641" width="8" height="1" fill="#0000ff"/>
<rect x="872" y="644" width="8" height="1" fill="#0000ff"/>
<rect x="1571" y="644" width="8" height="1" fill="#0000ff"/>
<rect x="872" y="647" width="8" height="1" fill="#0000ff"/>
<rect x="1571" y="647" width="8" height="1" fill="#0000ff"/>
<rect x="872" y="654" width="8" height="1" fill="#0000ff"/>
<rect x="1571" y="654" width="8" height="1" fill="#0000ff"/>
<rect x="872" y="657" width="8" height="1" fill="#0000ff"/>
<rect x="1571" y="657" width="8" height="1" fill="#0000ff"/>
<rect x="872" y="660" width="8" height="1" fill="#0000ff"/>
<rect x="1571" y="660" width="8" height="1" fill="#0000ff"/>
<rect x="872" y="664" width="8" height="1" fill="#0000ff"/>
<rect x="1571" y="664" width="8" height="1" fill="#0000ff"/>
<rect x="872" y="667" width="8" height="1" fill="#0000ff"/>
<rect x="1571" y="667" width="8" height="1" fill="#0000ff"/>
<rect x="872" y="670" width="8" height="1" fill="#0000ff"/>
<rect x="1571" y="670" width="8" height="1" fill="#0000ff"/>
<rect x="872" y="674" width="8" height="1" fill="#0000ff"/>
<rect x="1571" y="674" width="8" height="1" fill="#0000ff"/>
<rect x="872" y="677" width="8" height="1" fill="#0000ff"/>
<rect x="1571" y="677" width="8" height="1" fill="#0000ff"/>
<rect x="872" y="680" width="8" height="1" fill="#0000ff"/>
<rect x="1571" y="680" width="8" height="1" fill="#0000ff"/>
<rect x="872" y="687" width="8" height="1" fill="#0000ff"/>
<rect x="1571" y="687" width="8" height="1" fill="#0000ff"/>
<rect x="872" y="690" width="8" height="1" fill="#0000ff"/>
<rect x="1571" y="690" width="8" height="1" fill="#0000ff"/>
<rect x="872" y="693" width="8" height="1" fill="#0000ff"/>
<rect x="1571" y="693" width="8" height="1" fill="#0000ff"/>
<rect x="872" y="697" width="8" height="1" fill="#0000ff"/>
<rect x="1571" y="697" width="8" height="1" fill="#0000ff"/>
<rect x="872" y="700" width="8" height="1" fill="#0000ff"/>
<rect x="1571" y="700" width="8" height="1" fill="#0000ff"/>
<rect x="872" y="703" width="8" height="1" fill="#0000ff"/>
<rect x="1571" y="703" width="8" height="1" fill="#0000ff"/>
<rect x="872" y="706" width="8" height="1" fill="#0000ff"/>
<rect x="1571" y="706" width="8" height="1" fill="#0000ff"/>
<rect x="872" y="710" width="8" height="1" fill="#0000ff"/>
<rect x="1571" y="710" width="8" height="1" fill="#0000ff"/>
<rect x="872" y="713" width="8" height="1" fill="#0000ff"/>
<rect x="1571" y="713" width="8" height="1" fill="#0000ff"/>
<rect x="872" y="719" width="8" height="1" fill="#0000ff"/>
<rect x="1571" y="719" width="8" height="1" fill="#0000ff"/>
<rect x="872" y="723" width="8" height="1" fill="#0000ff"/>
<rect x="1571" y="723" width="8" height="1" fill="#0000ff"/>
<rect x="872" y="726" width="8" height="1" fill="#0000ff"/>
<rect x="1571" y="726" width="8" height="1" fill="#0000ff"/>
<rect x="872" y="729" width="8" height="1" fill="#0000ff"/>
<rect x="1571" y="729" width="8" height="1" fill="#0000ff"/>
<rect x="872" y="733" width="8" height="1" fill="#0000ff"/>
<rect x="1571" y="733" width="8" height="1" fill="#0000ff"/>
<rect x="872" y="736" width="8" height="1" fill="#0000ff"/>
<rect x="1571" y="736" width="8" height="1" fill="#0000ff"/>
<rect x="872" y="739" width="8" height="1" fill="#0000ff"/>
<rect x="1571" y="739" width="8" height="1" fill="#0000ff"/>
<rect x="872" y="742" width="8" height="1" fill="#0000ff"/>
<rect x="1571" y="742" width="8" height="1" fill="#0000ff"/>
<rect x="872" y="746" width="8" height="1" fill="#0000ff"/>
<rect x="1571" y="746" width="8" height="1" fill="#0000ff"/>
<rect x="872" y="752" width="8" height="1" fill="#0000ff"/>
<rect x="1571" y="752" width="8" height="1" fill="#0000ff"/>
<rect x="872" y="756" width="8" height="1" fill="#0000ff"/>
<rect x="1571" y="756" width="8" height="1" fill="#0000ff"/>
<rect x="872" y="759" width="8" height="1" fill="#0000ff"/>
<rect x="1571" y="759" width="8" height="1" fill="#0000ff"/>
<rect x="872" y="762" width="8" height="1" fill="#0000ff"/>
<rect x="1571" y="762" width="8" height="1" fill="#0000ff"/>
<rect x="872" y="765" width="8" height="1" fill="#0000ff"/>
<rect x="1571" y="765" width="8" height="1" fill="#0000ff"/>
<rect x="872" y="769" width="8" height="1" fill="#0000ff"/>
<rect x="1571" y="769" width="8" height="1" fill="#0000ff"/>
<rect x="872" y="772" width="8" height="1" fill="#0000ff"/>
<rect x="1571" y="772" width="8" height="1" fill="#0000ff"/>
<text x="1226" y="567" font-size="16" text-anchor="middle" fill="#0000ff" textLength="106" lengthAdjust="spacing" stroke="#fff" stroke-width="0.2">Latitude [deg]</text>
<text x="909" y="795" font-size="13" text-anchor="middle" fill="#0000ff" textLength="57" lengthAdjust="spacing">6.651201</text>
<text x="1066" y="795" font-size="13" text-anchor="middle" fill="#0000ff" textLength="57" lengthAdjust="spacing">6.651201</text>
<text x="1223" y="795" font-size="13" text-anchor="middle" fill="#0000ff" textLength="57" lengthAdjust="spacing">6.651202</text>
<text x="1380" y="795" font-size="13" text-anchor="middle" fill="#0000ff" textLength="57" lengthAdjust="spacing">6.651202</text>
<text x="1537" y="795" font-size="13" text-anchor="middle" fill="#0000ff" textLength="57" lengthAdjust="spacing">6.651203</text>
<polyline points="872,574 1072,574 1121,690 1490,760 1578,775" fill="none" stroke="#0000ff" stroke-width="2" stroke-linejoin="miter" shape-rendering="crispEdges"/>
<text x="868" y="591" font-size="13" text-anchor="end" fill="#0000ff">29</text>
<text x="868" y="624" font-size="13" text-anchor="end" fill="#0000ff">28</text>
<text x="868" y="657" font-size="13" text-anchor="end" fill="#0000ff">27</text>
<text x="868" y="689" font-size="13" text-anchor="end" fill="#0000ff">26</text>
<text x="868" y="722" font-size="13" text-anchor="end" fill="#0000ff">25</text>
<text x="868" y="755" font-size="13" text-anchor="end" fill="#0000ff">24</text>
<rect x="872" y="848" width="707" height="1" fill="#0000ff"/>
<rect x="872" y="1051" width="707" height="1" fill="#0000ff"/>
<rect x="872" y="848" width="1" height="204" fill="#0000ff"/>
<rect x="1578" y="848" width="1" height="204" fill="#0000ff"/>
<rect x="909" y="1047" width="1" height="5" fill="#0000ff"/>
<rect x="909" y="848" width="1" height="5" fill="#0000ff"/>
<rect x="1066" y="1047" width="1" height="5" fill="#0000ff"/>
<rect x="1066" y="848" width="1" height="5" fill="#0000ff"/>
<rect x="1223" y="1047" width="1" height="5" fill="#0000ff"/>
<rect x="1223" y="848" width="1" height="5" fill="#0000ff"/>
<rect x="1380" y="1047" width="1" height="5" fill="#0000ff"/>
<rect x="1380" y="848" width="1" height="5" fill="#0000ff"/>
<rect x="1537" y="1047" width="1" height="5" fill="#0000ff"/>
<rect x="1537" y="848" width="1" height="5" fill="#0000ff"/>
<rect x="877" y="1049" width="1" height="3" fill="#0000ff"/>
<rect x="877" y="848" width="1" height="3" fill="#0000ff"/>
<rect x="909" y="1049" width="1" height="3" fill="#0000ff"/>
<rect x="909" y="848" width="1" height="3" fill="#0000ff"/>
<rect x="940" y="1049" width="1" height="3" fill="#0000ff"/>
<rect x="940" y="848" width="1" height="3" fill="#0000ff"/>
<rect x="972" y="1049" width="1" height="3" fill="#0000ff"/>
<rect x="972" y="848" width="1" height="3" fill="#0000ff"/>
<rect x="1003" y="1049" width="1" height="3" fill="#0000ff"/>
<rect x="1003" y="848" width="1" height="3" fill="#0000ff"/>
<rect x="1034" y="1049" width="1" height="3" fill="#0000ff"/>
<rect x="1034" y="848" width="1" height="3" fill="#0000ff"/>
<rect x="1066" y="1049" width="1" height="3" fill="#0000ff"/>
<rect x="1066" y="848" width="1" height="3" fill="#0000ff"/>
<rect x="1097" y="1049" width="1" height="3" fill="#0000ff"/>
<rect x="1097" y="848" width="1" height="3" fill="#0000ff"/>
<rect x="1129" y="1049" width="1" height="3" fill="#0000ff"/>
<rect x="1129" y="848" width="1" height="3" fill="#0000ff"/>
<rect x="1160" y="1049" width="1" height="3" fill="#0000ff"/>
<rect x="1160" y="848" width="1" height="3" fill="#0000ff"/>
<rect x="1191" y="1049" width="1" height="3" fill="#0000ff"/>
<rect x="1191" y="848" width="1" height="3" fill="#0000ff"/>
<rect x="1223" y="1049" width="1" height="3" fill="#0000ff"/>
<rect x="1223" y="848" width="1" height="3" fill="#0000ff"/>
<rect x="1254" y="1049" width="1" height="3" fill="#0000ff"/>
<rect x="1254" y="848" width="1" height="3" fill="#0000ff"/>
<rect x="1286" y="1049" width="1" height="3" fill="#0000ff"/>
<rect x="1286" y="848" width="1" height="3" fill="#0000ff"/>
<rect x="1317" y="1049" width="1" height="3" fill="#0000ff"/>
<rect x="1317" y="848" width="1" height="3" fill="#0000ff"/>
<rect x="1348" y="1049" width="1" height="3" fill="#0000ff"/>
<rect x="1348" y="848" width="1" height="3" fill="#0000ff"/>
<rect x="1380" y="1049" width="1" height="3" fill="#0000ff"/>
<rect x="1380" y="848" width="1" height="3" fill="#0000ff"/>
<rect x="1411" y="1049" width="1" height="3" fill="#0000ff"/>
<rect x="1411" y="848" width="1" height="3" fill="#0000ff"/>
<rect x="1443" y="1049" width="1" height="3" fill="#0000ff"/>
<rect x="1443" y="848" width="1" height="3" fill="#0000ff"/>
<rect x="1474" y="1049" width="1" height="3" fill="#0000ff"/>
<rect x="1474" y="848" width="1" height="3" fill="#0000ff"/>
<rect x="1505" y="1049" width="1" height="3" fill="#0000ff"/>
<rect x="1505" y="848" width="1" height="3" fill="#0000ff"/>
<rect x="1537" y="1049" width="1" height="3" fill="#0000ff"/>
<rect x="1537" y="848" width="1" height="3" fill="#0000ff"/>
<rect x="1568" y="1049" width="1" height="3" fill="#0000ff"/>
<rect x="1568" y="848" width="1" height="3" fill="#0000ff"/>
<rect x="872" y="864" width="15" height="1" fill="#0000ff"/>
<rect x="1564" y="864" width="15" height="1" fill="#0000ff"/>
<rect x="872" y="903" width="15" height="1" fill="#0000ff"/>
<rect x="1564" y="903" width="15" height="1" fill="#0000ff"/>
<rect x="872" y="942" width="15" height="1" fill="#0000ff"/>
<rect x="1564" y="942" width="15" height="1" fill="#0000ff"/>
<rect x="872" y="981" width="15" height="1" fill="#0000ff"/>
<rect x="1564" y="981" width="15" height="1" fill="#0000ff"/>
<rect x="872" y="1020" width="15" height="1" fill="#0000ff"/>
<rect x="1564" y="1020" width="15" height="1" fill="#0000ff"/>
<rect x="872" y="852" width="8" height="1" fill="#0000ff"/>
<rect x="1571" y="852" width="8" height="1" fill="#0000ff"/>
<rect x="872" y="856" width="8" height="1" fill="#0000ff"/>
<rect x="1571" y="856" width="8" height="1" fill="#0000ff"/>
<rect x="872" y="860" width="8" height="1" fill="#0000ff"/>
<rect x="1571" y="860" width="8" height="1" fill="#0000ff"/>
<rect x="872" y="868" width="8" height="1" fill="#0000ff"/>
<rect x="1571" y="868" width="8" height="1" fill="#0000ff"/>
<rect x="872" y="872" width="8" height="1" fill="#0000ff"/>
<rect x="1571" y="872" width="8" height="1" fill="#0000ff"/>
<rect x="872" y="876" width="8" height="1" fill="#0000ff"/>
<rect x="1571" y="876" width="8" height="1" fill="#0000ff"/>
<rect x="872" y="880" width="8" height="1" fill="#0000ff"/>
<rect x="1571" y="880" width="8" height="1" fill="#0000ff"/>
<rect x="872" y="883" width="8" height="1" fill="#0000ff"/>
<rect x="1571" y="883" width="8" height="1" fill="#0000ff"/>
<rect x="872" y="887" width="8" height="1" fill="#0000ff"/>
<rect x="1571" y="887" width="8" height="1" fill="#0000ff"/>
<rect x="872" y="891" width="8" height="1" fill="#0000ff"/>
<rect x="1571" y="891" width="8" height="1" fill="#0000ff"/>
<rect x="872" y="895" width="8" height="1" fill="#0000ff"/>
<rect x="1571" y="895" width="8" height="1" fill="#0000ff"/>
<rect x="872" y="899" width="8" height="1" fill="#0000ff"/>
<rect x="1571" y="899" width="8" height="1" fill="#0000ff"/>
<rect x="872" y="907" width="8" height="1" fill="#0000ff"/>
<rect x="1571" y="907" width="8" height="1" fill="#0000ff"/>
<rect x="872" y="911" width="8" height="1" fill="#0000ff"/>
<rect x="1571" y="911" width="8" height="1" fill="#0000ff"/>
<rect x="872" y="915" width="8" height="1" fill="#0000ff"/>
<rect x="1571" y="915" width="8" height="1" fill="#0000ff"/>
<rect x="872" y="919" width="8" height="1" fill="#0000ff"/>
<rect x="1571" y="919" width="8" height="1" fill="#0000ff"/>
<rect x="872" y="922" width="8" height="1" fill="#0000ff"/>
<rect x="1571" y="922" width="8" height="1" fill="#0000ff"/>
<rect x="872" y="926" width="8" height="1" fill="#0000ff"/>
<rect x="1571" y="926" width="8" height="1" fill="#0000ff"/>
<rect x="872" y="930" width="8" height="1" fill="#0000ff"/>
<rect x="1571" y="930" width="8" height="1" fill="#0000ff"/>
<rect x="872" y="934" width="8" height="1" fill="#0000ff"/>
<rect x="1571" y="934" width="8" height="1" fill="#0000ff"/>
<rect x="872" y="938" width="8" height="1" fill="#0000ff"/>
<rect x="1571" y="938" width="8" height="1" fill="#0000ff"/>
<rect x="872" y="946" width="8" height="1" fill="#0000ff"/>
<rect x="1571" y="946" width="8" height="1" fill="#0000ff"/>
<rect x="872" y="950" width="8" height="1" fill="#0000ff"/>
<rect x="1571" y="950" width="8" height="1" fill="#0000ff"/>
<rect x="872" y="954" width="8" height="1" fill="#0000ff"/>
<rect x="1571" y="954" width="8" height="1" fill="#0000ff"/>
<rect x="872" y="957" width="8" height="1" fill="#0000ff"/>
<rect x="1571" y="957" width="8" height="1" fill="#0000ff"/>
<rect x="872" y="961" width="8" height="1" fill="#0000ff"/>
<rect x="1571" y="961" width="8" height="1" fill="#0000ff"/>
<rect x="872" y="965" width="8" height="1" fill="#0000ff"/>
<rect x="1571" y="965" width="8" height="1" fill="#0000ff"/>
<rect x="872" y="969" width="8" height="1" fill="#0000ff"/>
<rect x="1571" y="969" width="8" height="1" fill="#0000ff"/>
<rect x="872" y="973" width="8" height="1" fill="#0000ff"/>
<rect x="1571" y="973" width="8" height="1" fill="#0000ff"/>
<rect x="872" y="977" width="8" height="1" fill="#0000ff"/>
<rect x="1571" y="977" width="8" height="1" fill="#0000ff"/>
<rect x="872" y="985" width="8" height="1" fill="#0000ff"/>
<rect x="1571" y="985" width="8" height="1" fill="#0000ff"/>
<rect x="872" y="989" width="8" height="1" fill="#0000ff"/>
<rect x="1571" y="989" width="8" height="1" fill="#0000ff"/>
<rect x="872" y="993" width="8" height="1" fill="#0000ff"/>
<rect x="1571" y="993" width="8" height="1" fill="#0000ff"/>
<rect x="872" y="996" width="8" height="1" fill="#0000ff"/>
<rect x="1571" y="996" width="8" height="1" fill="#0000ff"/>
<rect x="872" y="1000" width="8" height="1" fill="#0000ff"/>
<rect x="1571" y="1000" width="8" height="1" fill="#0000ff"/>
<rect x="872" y="1004" width="8" height="1" fill="#0000ff"/>
<rect x="1571" y="1004" width="8" height="1" fill="#0000ff"/>
<rect x="872" y="1008" width="8" height="1" fill="#0000ff"/>
<rect x="1571" y="1008" width="8" height="1" fill="#0000ff"/>
<rect x="872" y="1012" width="8" height="1" fill="#0000ff"/>
<rect x="1571" y="1012" width="8" height="1" fill="#0000ff"/>
<rect x="872" y="1016" width="8" height="1" fill="#0000ff"/>
<rect x="1571" y="1016" width="8" height="1" fill="#0000ff"/>
<rect x="872" y="1024" width="8" height="1" fill="#0000ff"/>
<rect x="1571" y="1024" width="8" height="1" fill="#0000ff"/>
<rect x="872" y="1028" width="8" height="1" fill="#0000ff"/>
<rect x="1571" y="1028" width="8" height="1" fill="#0000ff"/>
<rect x="872" y="1031" width="8" height="1" fill="#0000ff"/>
<rect x="1571" y="1031" width="8" height="1" fill="#0000ff"/>
<rect x="872" y="1035" width="8" height="1" fill="#0000ff"/>
<rect x="1571" y="1035" width="8" height="1" fill="#0000ff"/>
<rect x="872" y="1039" width="8" height="1" fill="#0000ff"/>
<rect x="1571" y="1039" width="8" height="1" fill="#0000ff"/>
<rect x="872" y="1043" width="8" height="1" fill="#0000ff"/>
<rect x="1571" y="1043" width="8" height="1" fill="#0000ff"/>
<rect x="872" y="1047" width="8" height="1" fill="#0000ff"/>
<rect x="1571" y="1047" width="8" height="1" fill="#0000ff"/>
<text x="1225" y="842" font-size="16" text-anchor="middle" fill="#0000ff" textLength="119" lengthAdjust="spacing" stroke="#fff" stroke-width="0.2">Longitude [deg]</text>
<text x="909" y="1070" font-size="13" text-anchor="middle" fill="#0000ff" textLength="57" lengthAdjust="spacing">6.651201</text>
<text x="1066" y="1070" font-size="13" text-anchor="middle" fill="#0000ff" textLength="57" lengthAdjust="spacing">6.651201</text>
<text x="1223" y="1070" font-size="13" text-anchor="middle" fill="#0000ff" textLength="57" lengthAdjust="spacing">6.651202</text>
<text x="1380" y="1070" font-size="13" text-anchor="middle" fill="#0000ff" textLength="57" lengthAdjust="spacing">6.651202</text>
<text x="1537" y="1070" font-size="13" text-anchor="middle" fill="#0000ff" textLength="57" lengthAdjust="spacing">6.651203</text>
<polyline points="872,1051 1072,1051 1121,934 1490,864 1578,849" fill="none" stroke="#0000ff" stroke-width="2" stroke-linejoin="miter" shape-rendering="crispEdges"/>
<text x="868" y="870" font-size="13" text-anchor="end" fill="#0000ff">31.8</text>
<text x="868" y="909" font-size="13" text-anchor="end" fill="#0000ff">31.7</text>
<text x="868" y="948" font-size="13" text-anchor="end" fill="#0000ff">31.6</text>
<text x="868" y="987" font-size="13" text-anchor="end" fill="#0000ff">31.5</text>
<text x="868" y="1026" font-size="13" text-anchor="end" fill="#0000ff">31.4</text>
<path d="M878 36h1v1h-1zM877 42h1v1h-1zM877 48h1v1h-1zM877 54h1v1h-1zM877 60h1v1h-1zM877 66h1v1h-1zM877 72h1v1h-1zM877 78h1v1h-1zM877 84h1v1h-1zM877 90h1v1h-1zM877 96h1v1h-1zM877 102h1v1h-1zM877 108h1v1h-1zM877 114h1v1h-1zM877 120h1v1h-1zM877 126h1v1h-1zM877 132h1v1h-1zM877 138h1v1h-1zM877 144h1v1h-1zM877 150h1v1h-1zM877 156h1v1h-1zM877 162h1v1h-1zM877 168h1v1h-1zM877 174h1v1h-1zM877 180h1v1h-1zM877 186h1v1h-1zM877 192h1v1h-1zM877 198h1v1h-1zM877 204h1v1h-1zM877 210h1v1h-1zM877 216h1v1h-1zM877 222h1v1h-1zM877 228h1v1h-1zM877 234h1v1h-1zM877 240h1v1h-1zM877 246h1v1h-1zM877 252h1v1h-1zM877 258h1v1h-1zM877 264h1v1h-1zM877 270h1v1h-1zM877 276h1v1h-1zM877 282h1v1h-1zM877 288h1v1h-1zM877 294h1v1h-1zM877 300h1v1h-1zM877 306h1v1h-1zM877 312h1v1h-1zM877 318h1v1h-1zM877 324h1v1h-1zM877 330h1v1h-1zM877 336h1v1h-1zM877 342h1v1h-1zM877 348h1v1h-1zM877 354h1v1h-1zM877 360h1v1h-1zM877 366h1v1h-1zM877 372h1v1h-1zM877 378h1v1h-1zM877 384h1v1h-1zM877 390h1v1h-1zM877 396h1v1h-1zM877 402h1v1h-1zM877 408h1v1h-1zM877 414h1v1h-1zM877 420h1v1h-1zM877 426h1v1h-1zM877 432h1v1h-1zM877 438h1v1h-1zM877 444h1v1h-1zM877 450h1v1h-1zM877 456h1v1h-1zM877 462h1v1h-1zM877 468h1v1h-1zM877 474h1v1h-1zM877 480h1v1h-1zM877 486h1v1h-1zM877 492h1v1h-1zM877 498h1v1h-1zM877 504h1v1h-1zM877 510h1v1h-1zM877 516h1v1h-1zM878 522h1v1h-1zM935 36h1v1h-1zM935 42h1v1h-1zM935 48h1v1h-1zM935 54h1v1h-1zM935 60h1v1h-1zM935 66h1v1h-1zM935 72h1v1h-1zM935 78h1v1h-1zM935 84h1v1h-1zM935 90h1v1h-1zM935 96h1v1h-1zM935 102h1v1h-1zM935 108h1v1h-1zM935 114h1v1h-1zM935 120h1v1h-1zM935 126h1v1h-1zM935 132h1v1h-1zM935 138h1v1h-1zM935 144h1v1h-1zM935 150h1v1h-1zM935 156h1v1h-1zM935 162h1v1h-1zM935 168h1v1h-1zM935 174h1v1h-1zM935 180h1v1h-1zM935 186h1v1h-1zM935 192h1v1h-1zM935 198h1v1h-1zM935 204h1v1h-1zM935 210h1v1h-1zM935 216h1v1h-1zM935 222h1v1h-1zM935 228h1v1h-1zM935 234h1v1h-1zM935 240h1v1h-1zM935 246h1v1h-1zM935 252h1v1h-1zM935 258h1v1h-1zM935 264h1v1h-1zM935 270h1v1h-1zM935 276h1v1h-1zM935 282h1v1h-1zM935 288h1v1h-1zM935 294h1v1h-1zM935 300h1v1h-1zM935 306h1v1h-1zM935 312h1v1h-1zM935 318h1v1h-1zM935 324h1v1h-1zM935 330h1v1h-1zM935 336h1v1h-1zM935 342h1v1h-1zM935 348h1v1h-1zM935 354h1v1h-1zM935 360h1v1h-1zM935 366h1v1h-1zM935 372h1v1h-1zM935 378h1v1h-1zM935 384h1v1h-1zM935 390h1v1h-1zM935 396h1v1h-1zM935 402h1v1h-1zM935 408h1v1h-1zM935 414h1v1h-1zM935 420h1v1h-1zM935 426h1v1h-1zM935 432h1v1h-1zM935 438h1v1h-1zM935 444h1v1h-1zM935 450h1v1h-1zM935 456h1v1h-1zM935 462h1v1h-1zM935 468h1v1h-1zM935 474h1v1h-1zM935 480h1v1h-1zM935 486h1v1h-1zM935 492h1v1h-1zM935 498h1v1h-1zM935 504h1v1h-1zM935 510h1v1h-1zM993 36h1v1h-1zM993 42h1v1h-1zM993 48h1v1h-1zM993 54h1v1h-1zM993 60h1v1h-1zM993 66h1v1h-1zM993 72h1v1h-1zM993 78h1v1h-1zM993 84h1v1h-1zM993 90h1v1h-1zM993 96h1v1h-1zM993 102h1v1h-1zM993 108h1v1h-1zM993 114h1v1h-1zM993 120h1v1h-1zM993 126h1v1h-1zM993 132h1v1h-1zM993 138h1v1h-1zM993 144h1v1h-1zM993 150h1v1h-1zM993 156h1v1h-1zM993 162h1v1h-1zM993 168h1v1h-1zM993 174h1v1h-1zM993 180h1v1h-1zM993 186h1v1h-1zM993 192h1v1h-1zM993 198h1v1h-1zM993 204h1v1h-1zM993 210h1v1h-1zM993 216h1v1h-1zM993 222h1v1h-1zM993 228h1v1h-1zM993 234h1v1h-1zM993 240h1v1h-1zM993 246h1v1h-1zM993 252h1v1h-1zM993 258h1v1h-1zM993 264h1v1h-1zM993 270h1v1h-1zM993 276h1v1h-1zM993 282h1v1h-1zM993 288h1v1h-1zM993 294h1v1h-1zM993 300h1v1h-1zM993 306h1v1h-1zM993 312h1v1h-1zM993 318h1v1h-1zM993 324h1v1h-1zM993 330h1v1h-1zM993 336h1v1h-1zM993 342h1v1h-1zM993 348h1v1h-1zM993 354h1v1h-1zM993 360h1v1h-1zM993 366h1v1h-1zM993 372h1v1h-1zM993 378h1v1h-1zM993 384h1v1h-1zM993 390h1v1h-1zM993 396h1v1h-1zM993 402h1v1h-1zM993 408h1v1h-1zM993 414h1v1h-1zM993 420h1v1h-1zM993 426h1v1h-1zM993 432h1v1h-1zM993 438h1v1h-1zM993 444h1v1h-1zM993 450h1v1h-1zM993 456h1v1h-1zM993 462h1v1h-1zM993 468h1v1h-1zM993 474h1v1h-1zM993 480h1v1h-1zM993 486h1v1h-1zM993 492h1v1h-1zM993 498h1v1h-1zM993 504h1v1h-1zM993 510h1v1h-1zM1051 36h1v1h-1zM1051 42h1v1h-1zM1051 48h1v1h-1zM1051 54h1v1h-1zM1051 60h1v1h-1zM1051 66h1v1h-1zM1051 72h1v1h-1zM1051 78h1v1h-1zM1051 84h1v1h-1zM1051 90h1v1h-1zM1051 96h1v1h-1zM1051 102h1v1h-1zM1051 108h1v1h-1zM1051 114h1v1h-1zM1051 120h1v1h-1zM1051 126h1v1h-1zM1051 132h1v1h-1zM1051 138h1v1h-1zM1051 144h1v1h-1zM1051 150h1v1h-1zM1051 156h1v1h-1zM1051 162h1v1h-1zM1051 168h1v1h-1zM1051 174h1v1h-1zM1051 180h1v1h-1zM1051 186h1v1h-1zM1051 192h1v1h-1zM1051 198h1v1h-1zM1051 204h1v1h-1zM1051 210h1v1h-1zM1051 216h1v1h-1zM1051 222h1v1h-1zM1051 228h1v1h-1zM1051 234h1v1h-1zM1051 240h1v1h-1zM1051 246h1v1h-1zM1051 252h1v1h-1zM1051 258h1v1h-1zM1051 264h1v1h-1zM1051 270h1v1h-1zM1051 276h1v1h-1zM1051 282h1v1h-1zM1051 288h1v1h-1zM1051 294h1v1h-1zM1051 300h1v1h-1zM1051 306h1v1h-1zM1051 312h1v1h-1zM1051 318h1v1h-1zM1051 324h1v1h-1zM1051 330h1v1h-1zM1051 336h1v1h-1zM1051 342h1v1h-1zM1051 348h1v1h-1zM1051 354h1v1h-1zM1051 360h1v1h-1zM1051 366h1v1h-1zM1051 372h1v1h-1zM1051 378h1v1h-1zM1051 384h1v1h-1zM1051 390h1v1h-1zM1051 396h1v1h-1zM1051 402h1v1h-1zM1051 408h1v1h-1zM1051 414h1v1h-1zM1051 420h1v1h-1zM1051 426h1v1h-1zM1051 432h1v1h-1zM1051 438h1v1h-1zM1051 444h1v1h-1zM1051 450h1v1h-1zM1051 456h1v1h-1zM1051 462h1v1h-1zM1051 468h1v1h-1zM1051 474h1v1h-1zM1051 480h1v1h-1zM1051 486h1v1h-1zM1051 492h1v1h-1zM1051 498h1v1h-1zM1051 504h1v1h-1zM1051 510h1v1h-1zM1110 36h1v1h-1zM1110 42h1v1h-1zM1110 48h1v1h-1zM1110 54h1v1h-1zM1110 60h1v1h-1zM1110 66h1v1h-1zM1110 72h1v1h-1zM1110 78h1v1h-1zM1110 84h1v1h-1zM1110 90h1v1h-1zM1110 96h1v1h-1zM1110 102h1v1h-1zM1110 108h1v1h-1zM1110 114h1v1h-1zM1110 120h1v1h-1zM1110 126h1v1h-1zM1110 132h1v1h-1zM1110 138h1v1h-1zM1110 144h1v1h-1zM1110 150h1v1h-1zM1110 156h1v1h-1zM1110 162h1v1h-1zM1110 168h1v1h-1zM1110 174h1v1h-1zM1110 180h1v1h-1zM1110 186h1v1h-1zM1110 192h1v1h-1zM1110 198h1v1h-1zM1110 204h1v1h-1zM1110 210h1v1h-1zM1110 216h1v1h-1zM1110 222h1v1h-1zM1110 228h1v1h-1zM1110 234h1v1h-1zM1110 240h1v1h-1zM1110 246h1v1h-1zM1110 252h1v1h-1zM1110 258h1v1h-1zM1110 264h1v1h-1zM1110 270h1v1h-1zM1110 276h1v1h-1zM1110 282h1v1h-1zM1110 288h1v1h-1zM1110 294h1v1h-1zM1110 300h1v1h-1zM1110 306h1v1h-1zM1110 312h1v1h-1zM1110 318h1v1h-1zM1110 324h1v1h-1zM1110 330h1v1h-1zM1110 336h1v1h-1zM1110 342h1v1h-1zM1110 348h1v1h-1zM1110 354h1v1h-1zM1110 360h1v1h-1zM1110 366h1v1h-1zM1110 372h1v1h-1zM1110 378h1v1h-1zM1110 384h1v1h-1zM1110 390h1v1h-1zM1110 396h1v1h-1zM1110 402h1v1h-1zM1110 408h1v1h-1zM1110 414h1v1h-1zM1110 420h1v1h-1zM1110 426h1v1h-1zM1110 432h1v1h-1zM1110 438h1v1h-1zM1110 444h1v1h-1zM1110 450h1v1h-1zM1110 456h1v1h-1zM1110 462h1v1h-1zM1110 468h1v1h-1zM1110 474h1v1h-1zM1110 480h1v1h-1zM1110 486h1v1h-1zM1110 492h1v1h-1zM1110 498h1v1h-1zM1110 504h1v1h-1zM1110 510h1v1h-1zM1168 36h1v1h-1zM1168 42h1v1h-1zM1168 48h1v1h-1zM1168 54h1v1h-1zM1168 60h1v1h-1zM1168 66h1v1h-1zM1168 72h1v1h-1zM1168 78h1v1h-1zM1168 84h1v1h-1zM1168 90h1v1h-1zM1168 96h1v1h-1zM1168 102h1v1h-1zM1168 108h1v1h-1zM1168 114h1v1h-1zM1168 120h1v1h-1zM1168 126h1v1h-1zM1168 132h1v1h-1zM1168 138h1v1h-1zM1168 144h1v1h-1zM1168 150h1v1h-1zM1168 156h1v1h-1zM1168 162h1v1h-1zM1168 168h1v1h-1zM1168 174h1v1h-1zM1168 180h1v1h-1zM1168 186h1v1h-1zM1168 192h1v1h-1zM1168 198h1v1h-1zM1168 204h1v1h-1zM1168 210h1v1h-1zM1168 216h1v1h-1zM1168 222h1v1h-1zM1168 228h1v1h-1zM1168 234h1v1h-1zM1168 240h1v1h-1zM1168 246h1v1h-1zM1168 252h1v1h-1zM1168 258h1v1h-1zM1168 264h1v1h-1zM1168 270h1v1h-1zM1168 276h1v1h-1zM1168 282h1v1h-1zM1168 288h1v1h-1zM1168 294h1v1h-1zM1168 300h1v1h-1zM1168 306h1v1h-1zM1168 312h1v1h-1zM1168 318h1v1h-1zM1168 324h1v1h-1zM1168 330h1v1h-1zM1168 336h1v1h-1zM1168 342h1v1h-1zM1168 348h1v1h-1zM1168 354h1v1h-1zM1168 360h1v1h-1zM1168 366h1v1h-1zM1168 372h1v1h-1zM1168 378h1v1h-1zM1168 384h1v1h-1zM1168 390h1v1h-1zM1168 396h1v1h-1zM1168 402h1v1h-1zM1168 408h1v1h-1zM1168 414h1v1h-1zM1168 420h1v1h-1zM1168 426h1v1h-1zM1168 432h1v1h-1zM1168 438h1v1h-1zM1168 444h1v1h-1zM1168 450h1v1h-1zM1168 456h1v1h-1zM1168 462h1v1h-1zM1168 468h1v1h-1zM1168 474h1v1h-1zM1168 480h1v1h-1zM1168 486h1v1h-1zM1168 492h1v1h-1zM1168 498h1v1h-1zM1168 504h1v1h-1zM1168 510h1v1h-1zM1226 36h1v1h-1zM1226 42h1v1h-1zM1226 48h1v1h-1zM1226 54h1v1h-1zM1226 60h1v1h-1zM1226 66h1v1h-1zM1226 72h1v1h-1zM1226 78h1v1h-1zM1226 84h1v1h-1zM1226 90h1v1h-1zM1226 96h1v1h-1zM1226 102h1v1h-1zM1226 108h1v1h-1zM1226 114h1v1h-1zM1226 120h1v1h-1zM1226 126h1v1h-1zM1226 132h1v1h-1zM1226 138h1v1h-1zM1226 144h1v1h-1zM1226 150h1v1h-1zM1226 156h1v1h-1zM1226 162h1v1h-1zM1226 168h1v1h-1zM1226 174h1v1h-1zM1226 180h1v1h-1zM1226 186h1v1h-1zM1226 192h1v1h-1zM1226 198h1v1h-1zM1226 204h1v1h-1zM1226 210h1v1h-1zM1226 216h1v1h-1zM1226 222h1v1h-1zM1226 228h1v1h-1zM1226 234h1v1h-1zM1226 240h1v1h-1zM1226 246h1v1h-1zM1226 252h1v1h-1zM1226 258h1v1h-1zM1226 264h1v1h-1zM1226 270h1v1h-1zM1226 276h1v1h-1zM1226 282h1v1h-1zM1226 288h1v1h-1zM1226 294h1v1h-1zM1226 300h1v1h-1zM1226 306h1v1h-1zM1226 312h1v1h-1zM1226 318h1v1h-1zM1226 324h1v1h-1zM1226 330h1v1h-1zM1226 336h1v1h-1zM1226 342h1v1h-1zM1226 348h1v1h-1zM1226 354h1v1h-1zM1226 360h1v1h-1zM1226 366h1v1h-1zM1226 372h1v1h-1zM1226 378h1v1h-1zM1226 384h1v1h-1zM1226 390h1v1h-1zM1226 396h1v1h-1zM1226 402h1v1h-1zM1226 408h1v1h-1zM1226 414h1v1h-1zM1226 420h1v1h-1zM1226 426h1v1h-1zM1226 432h1v1h-1zM1226 438h1v1h-1zM1226 444h1v1h-1zM1226 450h1v1h-1zM1226 456h1v1h-1zM1226 462h1v1h-1zM1226 468h1v1h-1zM1226 474h1v1h-1zM1226 480h1v1h-1zM1226 486h1v1h-1zM1226 492h1v1h-1zM1226 498h1v1h-1zM1226 504h1v1h-1zM1226 510h1v1h-1zM1284 36h1v1h-1zM1284 42h1v1h-1zM1284 48h1v1h-1zM1284 54h1v1h-1zM1284 60h1v1h-1zM1284 66h1v1h-1zM1284 72h1v1h-1zM1284 78h1v1h-1zM1284 84h1v1h-1zM1284 90h1v1h-1zM1284 96h1v1h-1zM1284 102h1v1h-1zM1284 108h1v1h-1zM1284 114h1v1h-1zM1284 120h1v1h-1zM1284 126h1v1h-1zM1284 132h1v1h-1zM1284 138h1v1h-1zM1284 144h1v1h-1zM1284 150h1v1h-1zM1284 156h1v1h-1zM1284 162h1v1h-1zM1284 168h1v1h-1zM1284 174h1v1h-1zM1284 180h1v1h-1zM1284 186h1v1h-1zM1284 192h1v1h-1zM1284 198h1v1h-1zM1284 204h1v1h-1zM1284 210h1v1h-1zM1284 216h1v1h-1zM1284 222h1v1h-1zM1284 228h1v1h-1zM1284 234h1v1h-1zM1284 240h1v1h-1zM1284 246h1v1h-1zM1284 252h1v1h-1zM1284 258h1v1h-1zM1284 264h1v1h-1zM1284 270h1v1h-1zM1284 276h1v1h-1zM1284 282h1v1h-1zM1284 288h1v1h-1zM1284 294h1v1h-1zM1284 300h1v1h-1zM1284 306h1v1h-1zM1284 312h1v1h-1zM1284 318h1v1h-1zM1284 324h1v1h-1zM1284 330h1v1h-1zM1284 336h1v1h-1zM1284 342h1v1h-1zM1284 348h1v1h-1zM1284 354h1v1h-1zM1284 360h1v1h-1zM1284 366h1v1h-1zM1284 372h1v1h-1zM1284 378h1v1h-1zM1284 384h1v1h-1zM1284 390h1v1h-1zM1284 396h1v1h-1zM1284 402h1v1h-1zM1284 408h1v1h-1zM1284 414h1v1h-1zM1284 420h1v1h-1zM1284 426h1v1h-1zM1284 432h1v1h-1zM1284 438h1v1h-1zM1284 444h1v1h-1zM1284 450h1v1h-1zM1284 456h1v1h-1zM1284 462h1v1h-1zM1284 468h1v1h-1zM1284 474h1v1h-1zM1284 480h1v1h-1zM1284 486h1v1h-1zM1284 492h1v1h-1zM1284 498h1v1h-1zM1284 504h1v1h-1zM1284 510h1v1h-1zM1342 36h1v1h-1zM1342 42h1v1h-1zM1342 48h1v1h-1zM1342 54h1v1h-1zM1342 60h1v1h-1zM1342 66h1v1h-1zM1342 72h1v1h-1zM1342 78h1v1h-1zM1342 84h1v1h-1zM1342 90h1v1h-1zM1342 96h1v1h-1zM1342 102h1v1h-1zM1342 108h1v1h-1zM1342 114h1v1h-1zM1342 120h1v1h-1zM1342 126h1v1h-1zM1342 132h1v1h-1zM1342 138h1v1h-1zM1342 144h1v1h-1zM1342 150h1v1h-1zM1342 156h1v1h-1zM1342 162h1v1h-1zM1342 168h1v1h-1zM1342 174h1v1h-1zM1342 180h1v1h-1zM1342 186h1v1h-1zM1342 192h1v1h-1zM1342 198h1v1h-1zM1342 204h1v1h-1zM1342 210h1v1h-1zM1342 216h1v1h-1zM1342 222h1v1h-1zM1342 228h1v1h-1zM1342 234h1v1h-1zM1342 240h1v1h-1zM1342 246h1v1h-1zM1342 252h1v1h-1zM1342 258h1v1h-1zM1342 264h1v1h-1zM1342 270h1v1h-1zM1342 276h1v1h-1zM1342 282h1v1h-1zM1342 288h1v1h-1zM1342 294h1v1h-1zM1342 300h1v1h-1zM1342 306h1v1h-1zM1342 312h1v1h-1zM1342 318h1v1h-1zM1342 324h1v1h-1zM1342 330h1v1h-1zM1342 336h1v1h-1zM1342 342h1v1h-1zM1342 348h1v1h-1zM1342 354h1v1h-1zM1342 360h1v1h-1zM1342 366h1v1h-1zM1342 372h1v1h-1zM1342 378h1v1h-1zM1342 384h1v1h-1zM1342 390h1v1h-1zM1342 396h1v1h-1zM1342 402h1v1h-1zM1342 408h1v1h-1zM1342 414h1v1h-1zM1342 420h1v1h-1zM1342 426h1v1h-1zM1342 432h1v1h-1zM1342 438h1v1h-1zM1342 444h1v1h-1zM1342 450h1v1h-1zM1342 456h1v1h-1zM1342 462h1v1h-1zM1342 468h1v1h-1zM1342 474h1v1h-1zM1342 480h1v1h-1zM1342 486h1v1h-1zM1342 492h1v1h-1zM1342 498h1v1h-1zM1342 504h1v1h-1zM1342 510h1v1h-1zM1400 36h1v1h-1zM1400 42h1v1h-1zM1400 48h1v1h-1zM1400 54h1v1h-1zM1400 60h1v1h-1zM1400 66h1v1h-1zM1400 72h1v1h-1zM1400 78h1v1h-1zM1400 84h1v1h-1zM1400 90h1v1h-1zM1400 96h1v1h-1zM1400 102h1v1h-1zM1400 108h1v1h-1zM1400 114h1v1h-1zM1400 120h1v1h-1zM1400 126h1v1h-1zM1400 132h1v1h-1zM1400 138h1v1h-1zM1400 144h1v1h-1zM1400 150h1v1h-1zM1400 156h1v1h-1zM1400 162h1v1h-1zM1400 168h1v1h-1zM1400 174h1v1h-1zM1400 180h1v1h-1zM1400 186h1v1h-1zM1400 192h1v1h-1zM1400 198h1v1h-1zM1400 204h1v1h-1zM1400 210h1v1h-1zM1400 216h1v1h-1zM1400 222h1v1h-1zM1400 228h1v1h-1zM1400 234h1v1h-1zM1400 240h1v1h-1zM1400 246h1v1h-1zM1400 252h1v1h-1zM1400 258h1v1h-1zM1400 264h1v1h-1zM1400 270h1v1h-1zM1400 276h1v1h-1zM1400 282h1v1h-1zM1400 288h1v1h-1zM1400 294h1v1h-1zM1400 300h1v1h-1zM1400 306h1v1h-1zM1400 312h1v1h-1zM1400 318h1v1h-1zM1400 324h1v1h-1zM1400 330h1v1h-1zM1400 336h1v1h-1zM1400 342h1v1h-1zM1400 348h1v1h-1zM1400 354h1v1h-1zM1400 360h1v1h-1zM1400 366h1v1h-1zM1400 372h1v1h-1zM1400 378h1v1h-1zM1400 384h1v1h-1zM1400 390h1v1h-1zM1400 396h1v1h-1zM1400 402h1v1h-1zM1400 408h1v1h-1zM1400 414h1v1h-1zM1400 420h1v1h-1zM1400 426h1v1h-1zM1400 432h1v1h-1zM1400 438h1v1h-1zM1400 444h1v1h-1zM1400 450h1v1h-1zM1400 456h1v1h-1zM1400 462h1v1h-1zM1400 468h1v1h-1zM1400 474h1v1h-1zM1400 480h1v1h-1zM1400 486h1v1h-1zM1400 492h1v1h-1zM1400 498h1v1h-1zM1400 504h1v1h-1zM1400 510h1v1h-1zM1458 36h1v1h-1zM1458 42h1v1h-1zM1458 48h1v1h-1zM1458 54h1v1h-1zM1458 60h1v1h-1zM1458 66h1v1h-1zM1458 72h1v1h-1zM1458 78h1v1h-1zM1458 84h1v1h-1zM1458 90h1v1h-1zM1458 96h1v1h-1zM1458 102h1v1h-1zM1458 108h1v1h-1zM1458 114h1v1h-1zM1458 120h1v1h-1zM1458 126h1v1h-1zM1458 132h1v1h-1zM1458 138h1v1h-1zM1458 144h1v1h-1zM1458 150h1v1h-1zM1458 156h1v1h-1zM1458 162h1v1h-1zM1458 168h1v1h-1zM1458 174h1v1h-1zM1458 180h1v1h-1zM1458 186h1v1h-1zM1458 192h1v1h-1zM1458 198h1v1h-1zM1458 204h1v1h-1zM1458 210h1v1h-1zM1458 216h1v1h-1zM1458 222h1v1h-1zM1458 228h1v1h-1zM1458 234h1v1h-1zM1458 240h1v1h-1zM1458 246h1v1h-1zM1458 252h1v1h-1zM1458 258h1v1h-1zM1458 264h1v1h-1zM1458 270h1v1h-1zM1458 276h1v1h-1zM1458 282h1v1h-1zM1458 288h1v1h-1zM1458 294h1v1h-1zM1458 300h1v1h-1zM1458 306h1v1h-1zM1458 312h1v1h-1zM1458 318h1v1h-1zM1458 324h1v1h-1zM1458 330h1v1h-1zM1458 336h1v1h-1zM1458 342h1v1h-1zM1458 348h1v1h-1zM1458 354h1v1h-1zM1458 360h1v1h-1zM1458 366h1v1h-1zM1458 372h1v1h-1zM1458 378h1v1h-1zM1458 384h1v1h-1zM1458 390h1v1h-1zM1458 396h1v1h-1zM1458 402h1v1h-1zM1458 408h1v1h-1zM1458 414h1v1h-1zM1458 420h1v1h-1zM1458 426h1v1h-1zM1458 432h1v1h-1zM1458 438h1v1h-1zM1458 444h1v1h-1zM1458 450h1v1h-1zM1458 456h1v1h-1zM1458 462h1v1h-1zM1458 468h1v1h-1zM1458 474h1v1h-1zM1458 480h1v1h-1zM1458 486h1v1h-1zM1458 492h1v1h-1zM1458 498h1v1h-1zM1458 504h1v1h-1zM1458 510h1v1h-1zM1516 36h1v1h-1zM1516 42h1v1h-1zM1516 48h1v1h-1zM1516 54h1v1h-1zM1516 60h1v1h-1zM1516 66h1v1h-1zM1516 72h1v1h-1zM1516 78h1v1h-1zM1516 84h1v1h-1zM1516 90h1v1h-1zM1516 96h1v1h-1zM1516 102h1v1h-1zM1516 108h1v1h-1zM1516 114h1v1h-1zM1516 120h1v1h-1zM1516 126h1v1h-1zM1516 132h1v1h-1zM1516 138h1v1h-1zM1516 144h1v1h-1zM1516 150h1v1h-1zM1516 156h1v1h-1zM1516 162h1v1h-1zM1516 168h1v1h-1zM1516 174h1v1h-1zM1516 180h1v1h-1zM1516 186h1v1h-1zM1516 192h1v1h-1zM1516 198h1v1h-1zM1516 204h1v1h-1zM1516 210h1v1h-1zM1516 216h1v1h-1zM1516 222h1v1h-1zM1516 228h1v1h-1zM1516 234h1v1h-1zM1516 240h1v1h-1zM1516 246h1v1h-1zM1516 252h1v1h-1zM1516 258h1v1h-1zM1516 264h1v1h-1zM1516 270h1v1h-1zM1516 276h1v1h-1zM1516 282h1v1h-1zM1516 288h1v1h-1zM1516 294h1v1h-1zM1516 300h1v1h-1zM1516 306h1v1h-1zM1516 312h1v1h-1zM1516 318h1v1h-1zM1516 324h1v1h-1zM1516 330h1v1h-1zM1516 336h1v1h-1zM1516 342h1v1h-1zM1516 348h1v1h-1zM1516 354h1v1h-1zM1516 360h1v1h-1zM1516 366h1v1h-1zM1516 372h1v1h-1zM1516 378h1v1h-1zM1516 384h1v1h-1zM1516 390h1v1h-1zM1516 396h1v1h-1zM1516 402h1v1h-1zM1516 408h1v1h-1zM1516 414h1v1h-1zM1516 420h1v1h-1zM1516 426h1v1h-1zM1516 432h1v1h-1zM1516 438h1v1h-1zM1516 444h1v1h-1zM1516 450h1v1h-1zM1516 456h1v1h-1zM1516 462h1v1h-1zM1516 468h1v1h-1zM1516 474h1v1h-1zM1516 480h1v1h-1zM1516 486h1v1h-1zM1516 492h1v1h-1zM1516 498h1v1h-1zM1516 504h1v1h-1zM1516 510h1v1h-1zM1574 36h1v1h-1zM1574 42h1v1h-1zM1574 48h1v1h-1zM1574 54h1v1h-1zM1574 60h1v1h-1zM1574 66h1v1h-1zM1574 72h1v1h-1zM1574 78h1v1h-1zM1574 84h1v1h-1zM1574 90h1v1h-1zM1574 96h1v1h-1zM1574 102h1v1h-1zM1574 108h1v1h-1zM1574 114h1v1h-1zM1574 120h1v1h-1zM1574 126h1v1h-1zM1574 132h1v1h-1zM1574 138h1v1h-1zM1574 144h1v1h-1zM1574 150h1v1h-1zM1574 156h1v1h-1zM1574 162h1v1h-1zM1574 168h1v1h-1zM1574 174h1v1h-1zM1574 180h1v1h-1zM1574 186h1v1h-1zM1574 192h1v1h-1zM1574 198h1v1h-1zM1574 204h1v1h-1zM1574 210h1v1h-1zM1574 216h1v1h-1zM1574 222h1v1h-1zM1574 228h1v1h-1zM1574 234h1v1h-1zM1574 240h1v1h-1zM1574 246h1v1h-1zM1574 252h1v1h-1zM1574 258h1v1h-1zM1574 264h1v1h-1zM1574 270h1v1h-1zM1574 276h1v1h-1zM1574 282h1v1h-1zM1574 288h1v1h-1zM1574 294h1v1h-1zM1574 300h1v1h-1zM1574 306h1v1h-1zM1574 312h1v1h-1zM1574 318h1v1h-1zM1574 324h1v1h-1zM1574 330h1v1h-1zM1574 336h1v1h-1zM1574 342h1v1h-1zM1574 348h1v1h-1zM1574 354h1v1h-1zM1574 360h1v1h-1zM1574 366h1v1h-1zM1574 372h1v1h-1zM1574 378h1v1h-1zM1574 384h1v1h-1zM1574 390h1v1h-1zM1574 396h1v1h-1zM1574 402h1v1h-1zM1574 408h1v1h-1zM1574 414h1v1h-1zM1574 420h1v1h-1zM1574 426h1v1h-1zM1574 432h1v1h-1zM1574 438h1v1h-1zM1574 444h1v1h-1zM1574 450h1v1h-1zM1574 456h1v1h-1zM1574 462h1v1h-1zM1574 468h1v1h-1zM1574 474h1v1h-1zM1574 480h1v1h-1zM1574 486h1v1h-1zM1574 492h1v1h-1zM1574 498h1v1h-1zM1574 504h1v1h-1zM1574 510h1v1h-1zM877 114h1v1h-1zM883 114h1v1h-1zM889 114h1v1h-1zM895 114h1v1h-1zM901 114h1v1h-1zM907 114h1v1h-1zM913 114h1v1h-1zM919 114h1v1h-1zM925 114h1v1h-1zM931 114h1v1h-1zM937 114h1v1h-1zM943 114h1v1h-1zM949 114h1v1h-1zM955 114h1v1h-1zM961 114h1v1h-1zM967 114h1v1h-1zM973 114h1v1h-1zM979 114h1v1h-1zM985 114h1v1h-1zM991 114h1v1h-1zM997 114h1v1h-1zM1003 114h1v1h-1zM1009 114h1v1h-1zM1015 114h1v1h-1zM1021 114h1v1h-1zM1027 114h1v1h-1zM1033 114h1v1h-1zM1039 114h1v1h-1zM1045 114h1v1h-1zM1051 114h1v1h-1zM1057 114h1v1h-1zM1063 114h1v1h-1zM1069 114h1v1h-1zM1075 114h1v1h-1zM1081 114h1v1h-1zM1087 114h1v1h-1zM1093 114h1v1h-1zM1099 114h1v1h-1zM1105 114h1v1h-1zM1111 114h1v1h-1zM1117 114h1v1h-1zM1123 114h1v1h-1zM1129 114h1v1h-1zM1135 114h1v1h-1zM1141 114h1v1h-1zM1147 114h1v1h-1zM1153 114h1v1h-1zM1159 114h1v1h-1zM1165 114h1v1h-1zM1171 114h1v1h-1zM1177 114h1v1h-1zM1183 114h1v1h-1zM1189 114h1v1h-1zM1195 114h1v1h-1zM1201 114h1v1h-1zM1207 114h1v1h-1zM1213 114h1v1h-1zM1219 114h1v1h-1zM1225 114h1v1h-1zM1231 114h1v1h-1zM1237 114h1v1h-1zM1243 114h1v1h-1zM1249 114h1v1h-1zM1255 114h1v1h-1zM1261 114h1v1h-1zM1267 114h1v1h-1zM1273 114h1v1h-1zM1279 114h1v1h-1zM1285 114h1v1h-1zM1291 114h1v1h-1zM1297 114h1v1h-1zM1303 114h1v1h-1zM1309 114h1v1h-1zM1315 114h1v1h-1zM1321 114h1v1h-1zM1327 114h1v1h-1zM1333 114h1v1h-1zM1339 114h1v1h-1zM1345 114h1v1h-1zM1351 114h1v1h-1zM1357 114h1v1h-1zM1363 114h1v1h-1zM1369 114h1v1h-1zM1375 114h1v1h-1zM1381 114h1v1h-1zM1387 114h1v1h-1zM1393 114h1v1h-1zM1399 114h1v1h-1zM1405 114h1v1h-1zM1411 114h1v1h-1zM1417 114h1v1h-1zM1423 114h1v1h-1zM1429 114h1v1h-1zM1435 114h1v1h-1zM1441 114h1v1h-1zM1447 114h1v1h-1zM1453 114h1v1h-1zM1459 114h1v1h-1zM1465 114h1v1h-1zM1471 114h1v1h-1zM1477 114h1v1h-1zM1483 114h1v1h-1zM1489 114h1v1h-1zM1495 114h1v1h-1zM1501 114h1v1h-1zM1507 114h1v1h-1zM1513 114h1v1h-1zM1519 114h1v1h-1zM1525 114h1v1h-1zM1531 114h1v1h-1zM1537 114h1v1h-1zM1543 114h1v1h-1zM1549 114h1v1h-1zM1555 114h1v1h-1zM1561 114h1v1h-1zM1567 114h1v1h-1zM1573 114h1v1h-1zM877 196h1v1h-1zM883 196h1v1h-1zM889 196h1v1h-1zM895 196h1v1h-1zM901 196h1v1h-1zM907 196h1v1h-1zM913 196h1v1h-1zM919 196h1v1h-1zM925 196h1v1h-1zM931 196h1v1h-1zM937 196h1v1h-1zM943 196h1v1h-1zM949 196h1v1h-1zM955 196h1v1h-1zM961 196h1v1h-1zM967 196h1v1h-1zM973 196h1v1h-1zM979 196h1v1h-1zM985 196h1v1h-1zM991 196h1v1h-1zM997 196h1v1h-1zM1003 196h1v1h-1zM1009 196h1v1h-1zM1015 196h1v1h-1zM1021 196h1v1h-1zM1027 196h1v1h-1zM1033 196h1v1h-1zM1039 196h1v1h-1zM1045 196h1v1h-1zM1051 196h1v1h-1zM1057 196h1v1h-1zM1063 196h1v1h-1zM1069 196h1v1h-1zM1075 196h1v1h-1zM1081 196h1v1h-1zM1087 196h1v1h-1zM1093 196h1v1h-1zM1099 196h1v1h-1zM1105 196h1v1h-1zM1111 196h1v1h-1zM1117 196h1v1h-1zM1123 196h1v1h-1zM1129 196h1v1h-1zM1135 196h1v1h-1zM1141 196h1v1h-1zM1147 196h1v1h-1zM1153 196h1v1h-1zM1159 196h1v1h-1zM1165 196h1v1h-1zM1171 196h1v1h-1zM1177 196h1v1h-1zM1183 196h1v1h-1zM1189 196h1v1h-1zM1195 196h1v1h-1zM1201 196h1v1h-1zM1207 196h1v1h-1zM1213 196h1v1h-1zM1219 196h1v1h-1zM1225 196h1v1h-1zM1231 196h1v1h-1zM1237 196h1v1h-1zM1243 196h1v1h-1zM1249 196h1v1h-1zM1255 196h1v1h-1zM1261 196h1v1h-1zM1267 196h1v1h-1zM1273 196h1v1h-1zM1279 196h1v1h-1zM1285 196h1v1h-1zM1291 196h1v1h-1zM1297 196h1v1h-1zM1303 196h1v1h-1zM1309 196h1v1h-1zM1315 196h1v1h-1zM1321 196h1v1h-1zM1327 196h1v1h-1zM1333 196h1v1h-1zM1339 196h1v1h-1zM1345 196h1v1h-1zM1351 196h1v1h-1zM1357 196h1v1h-1zM1363 196h1v1h-1zM1369 196h1v1h-1zM1375 196h1v1h-1zM1381 196h1v1h-1zM1387 196h1v1h-1zM1393 196h1v1h-1zM1399 196h1v1h-1zM1405 196h1v1h-1zM1411 196h1v1h-1zM1417 196h1v1h-1zM1423 196h1v1h-1zM1429 196h1v1h-1zM1435 196h1v1h-1zM1441 196h1v1h-1zM1447 196h1v1h-1zM1453 196h1v1h-1zM1459 196h1v1h-1zM1465 196h1v1h-1zM1471 196h1v1h-1zM1477 196h1v1h-1zM1483 196h1v1h-1zM1489 196h1v1h-1zM1495 196h1v1h-1zM1501 196h1v1h-1zM1507 196h1v1h-1zM1513 196h1v1h-1zM1519 196h1v1h-1zM1525 196h1v1h-1zM1531 196h1v1h-1zM1537 196h1v1h-1zM1543 196h1v1h-1zM1549 196h1v1h-1zM1555 196h1v1h-1zM1561 196h1v1h-1zM1567 196h1v1h-1zM1573 196h1v1h-1zM877 277h1v1h-1zM883 277h1v1h-1zM889 277h1v1h-1zM895 277h1v1h-1zM901 277h1v1h-1zM907 277h1v1h-1zM913 277h1v1h-1zM919 277h1v1h-1zM925 277h1v1h-1zM931 277h1v1h-1zM937 277h1v1h-1zM943 277h1v1h-1zM949 277h1v1h-1zM955 277h1v1h-1zM961 277h1v1h-1zM967 277h1v1h-1zM973 277h1v1h-1zM979 277h1v1h-1zM985 277h1v1h-1zM991 277h1v1h-1zM997 277h1v1h-1zM1003 277h1v1h-1zM1009 277h1v1h-1zM1015 277h1v1h-1zM1021 277h1v1h-1zM1027 277h1v1h-1zM1033 277h1v1h-1zM1039 277h1v1h-1zM1045 277h1v1h-1zM1051 277h1v1h-1zM1057 277h1v1h-1zM1063 277h1v1h-1zM1069 277h1v1h-1zM1075 277h1v1h-1zM1081 277h1v1h-1zM1087 277h1v1h-1zM1093 277h1v1h-1zM1099 277h1v1h-1zM1105 277h1v1h-1zM1111 277h1v1h-1zM1117 277h1v1h-1zM1123 277h1v1h-1zM1129 277h1v1h-1zM1135 277h1v1h-1zM1141 277h1v1h-1zM1147 277h1v1h-1zM1153 277h1v1h-1zM1159 277h1v1h-1zM1165 277h1v1h-1zM1171 277h1v1h-1zM1177 277h1v1h-1zM1183 277h1v1h-1zM1189 277h1v1h-1zM1195 277h1v1h-1zM1201 277h1v1h-1zM1207 277h1v1h-1zM1213 277h1v1h-1zM1219 277h1v1h-1zM1225 277h1v1h-1zM1231 277h1v1h-1zM1237 277h1v1h-1zM1243 277h1v1h-1zM1249 277h1v1h-1zM1255 277h1v1h-1zM1261 277h1v1h-1zM1267 277h1v1h-1zM1273 277h1v1h-1zM1279 277h1v1h-1zM1285 277h1v1h-1zM1291 277h1v1h-1zM1297 277h1v1h-1zM1303 277h1v1h-1zM1309 277h1v1h-1zM1315 277h1v1h-1zM1321 277h1v1h-1zM1327 277h1v1h-1zM1333 277h1v1h-1zM1339 277h1v1h-1zM1345 277h1v1h-1zM1351 277h1v1h-1zM1357 277h1v1h-1zM1363 277h1v1h-1zM1369 277h1v1h-1zM1375 277h1v1h-1zM1381 277h1v1h-1zM1387 277h1v1h-1zM1393 277h1v1h-1zM1399 277h1v1h-1zM1405 277h1v1h-1zM1411 277h1v1h-1zM1417 277h1v1h-1zM1423 277h1v1h-1zM1429 277h1v1h-1zM1435 277h1v1h-1zM1441 277h1v1h-1zM1447 277h1v1h-1zM1453 277h1v1h-1zM1459 277h1v1h-1zM1465 277h1v1h-1zM1471 277h1v1h-1zM1477 277h1v1h-1zM1483 277h1v1h-1zM1489 277h1v1h-1zM1495 277h1v1h-1zM1501 277h1v1h-1zM1507 277h1v1h-1zM1513 277h1v1h-1zM1519 277h1v1h-1zM1525 277h1v1h-1zM1531 277h1v1h-1zM1537 277h1v1h-1zM1543 277h1v1h-1zM1549 277h1v1h-1zM1555 277h1v1h-1zM1561 277h1v1h-1zM1567 277h1v1h-1zM1573 277h1v1h-1zM877 359h1v1h-1zM883 359h1v1h-1zM889 359h1v1h-1zM895 359h1v1h-1zM901 359h1v1h-1zM907 359h1v1h-1zM913 359h1v1h-1zM919 359h1v1h-1zM925 359h1v1h-1zM931 359h1v1h-1zM937 359h1v1h-1zM943 359h1v1h-1zM949 359h1v1h-1zM955 359h1v1h-1zM961 359h1v1h-1zM967 359h1v1h-1zM973 359h1v1h-1zM979 359h1v1h-1zM985 359h1v1h-1zM991 359h1v1h-1zM997 359h1v1h-1zM1003 359h1v1h-1zM1009 359h1v1h-1zM1015 359h1v1h-1zM1021 359h1v1h-1zM1027 359h1v1h-1zM1033 359h1v1h-1zM1039 359h1v1h-1zM1045 359h1v1h-1zM1051 359h1v1h-1zM1057 359h1v1h-1zM1063 359h1v1h-1zM1069 359h1v1h-1zM1075 359h1v1h-1zM1081 359h1v1h-1zM1087 359h1v1h-1zM1093 359h1v1h-1zM1099 359h1v1h-1zM1105 359h1v1h-1zM1111 359h1v1h-1zM1117 359h1v1h-1zM1123 359h1v1h-1zM1129 359h1v1h-1zM1135 359h1v1h-1zM1141 359h1v1h-1zM1147 359h1v1h-1zM1153 359h1v1h-1zM1159 359h1v1h-1zM1165 359h1v1h-1zM1171 359h1v1h-1zM1177 359h1v1h-1zM1183 359h1v1h-1zM1189 359h1v1h-1zM1195 359h1v1h-1zM1201 359h1v1h-1zM1207 359h1v1h-1zM1213 359h1v1h-1zM1219 359h1v1h-1zM1225 359h1v1h-1zM1231 359h1v1h-1zM1237 359h1v1h-1zM1243 359h1v1h-1zM1249 359h1v1h-1zM1255 359h1v1h-1zM1261 359h1v1h-1zM1267 359h1v1h-1zM1273 359h1v1h-1zM1279 359h1v1h-1zM1285 359h1v1h-1zM1291 359h1v1h-1zM1297 359h1v1h-1zM1303 359h1v1h-1zM1309 359h1v1h-1zM1315 359h1v1h-1zM1321 359h1v1h-1zM1327 359h1v1h-1zM1333 359h1v1h-1zM1339 359h1v1h-1zM1345 359h1v1h-1zM1351 359h1v1h-1zM1357 359h1v1h-1zM1363 359h1v1h-1zM1369 359h1v1h-1zM1375 359h1v1h-1zM1381 359h1v1h-1zM1387 359h1v1h-1zM1393 359h1v1h-1zM1399 359h1v1h-1zM1405 359h1v1h-1zM1411 359h1v1h-1zM1417 359h1v1h-1zM1423 359h1v1h-1zM1429 359h1v1h-1zM1435 359h1v1h-1zM1441 359h1v1h-1zM1447 359h1v1h-1zM1453 359h1v1h-1zM1459 359h1v1h-1zM1465 359h1v1h-1zM1471 359h1v1h-1zM1477 359h1v1h-1zM1483 359h1v1h-1zM1489 359h1v1h-1zM1495 359h1v1h-1zM1501 359h1v1h-1zM1507 359h1v1h-1zM1513 359h1v1h-1zM1519 359h1v1h-1zM1525 359h1v1h-1zM1531 359h1v1h-1zM1537 359h1v1h-1zM1543 359h1v1h-1zM1549 359h1v1h-1zM1555 359h1v1h-1zM1561 359h1v1h-1zM1567 359h1v1h-1zM1573 359h1v1h-1zM877 441h1v1h-1zM883 441h1v1h-1zM889 441h1v1h-1zM895 441h1v1h-1zM901 441h1v1h-1zM907 441h1v1h-1zM913 441h1v1h-1zM919 441h1v1h-1zM925 441h1v1h-1zM931 441h1v1h-1zM937 441h1v1h-1zM943 441h1v1h-1zM949 441h1v1h-1zM955 441h1v1h-1zM961 441h1v1h-1zM967 441h1v1h-1zM973 441h1v1h-1zM979 441h1v1h-1zM985 441h1v1h-1zM991 441h1v1h-1zM997 441h1v1h-1zM1003 441h1v1h-1zM1009 441h1v1h-1zM1015 441h1v1h-1zM1021 441h1v1h-1zM1027 441h1v1h-1zM1033 441h1v1h-1zM1039 441h1v1h-1zM1045 441h1v1h-1zM1051 441h1v1h-1zM1057 441h1v1h-1zM1063 441h1v1h-1zM1069 441h1v1h-1zM1075 441h1v1h-1zM1081 441h1v1h-1zM1087 441h1v1h-1zM1093 441h1v1h-1zM1099 441h1v1h-1zM1105 441h1v1h-1zM1111 441h1v1h-1zM1117 441h1v1h-1zM1123 441h1v1h-1zM1129 441h1v1h-1zM1135 441h1v1h-1zM1141 441h1v1h-1zM1147 441h1v1h-1zM1153 441h1v1h-1zM1159 441h1v1h-1zM1165 441h1v1h-1zM1171 441h1v1h-1zM1177 441h1v1h-1zM1183 441h1v1h-1zM1189 441h1v1h-1zM1195 441h1v1h-1zM1201 441h1v1h-1zM1207 441h1v1h-1zM1213 441h1v1h-1zM1219 441h1v1h-1zM1225 441h1v1h-1zM1231 441h1v1h-1zM1237 441h1v1h-1zM1243 441h1v1h-1zM1249 441h1v1h-1zM1255 441h1v1h-1zM1261 441h1v1h-1zM1267 441h1v1h-1zM1273 441h1v1h-1zM1279 441h1v1h-1zM1285 441h1v1h-1zM1291 441h1v1h-1zM1297 441h1v1h-1zM1303 441h1v1h-1zM1309 441h1v1h-1zM1315 441h1v1h-1zM1321 441h1v1h-1zM1327 441h1v1h-1zM1333 441h1v1h-1zM1339 441h1v1h-1zM1345 441h1v1h-1zM1351 441h1v1h-1zM1357 441h1v1h-1zM1363 441h1v1h-1zM1369 441h1v1h-1zM1375 441h1v1h-1zM1381 441h1v1h-1zM1387 441h1v1h-1zM1393 441h1v1h-1zM1399 441h1v1h-1zM1405 441h1v1h-1zM1411 441h1v1h-1zM1417 441h1v1h-1zM1423 441h1v1h-1zM1429 441h1v1h-1zM1435 441h1v1h-1zM1441 441h1v1h-1zM1447 441h1v1h-1zM1453 441h1v1h-1zM1459 441h1v1h-1zM1465 441h1v1h-1zM1471 441h1v1h-1zM1477 441h1v1h-1zM1483 441h1v1h-1zM1489 441h1v1h-1zM1495 441h1v1h-1zM1501 441h1v1h-1zM1507 441h1v1h-1zM1513 441h1v1h-1zM1519 441h1v1h-1zM1525 441h1v1h-1zM1531 441h1v1h-1zM1537 441h1v1h-1zM1543 441h1v1h-1zM1549 441h1v1h-1zM1555 441h1v1h-1zM1561 441h1v1h-1zM1567 441h1v1h-1zM1573 441h1v1h-1z" fill="#000000"/>
<path d="M877.5,84.4 883.2,84.6 M877.5,90.1 884.1,93.3 889.3,95.8 894.4,96.1 897.8,98.4 893.8,100.1 891.5,103.5 888.7,102.4 885.3,100.3 880.7,99.5 877.9,100.1 M893.8,105.2 897.2,106.1 900.3,106.3 M987.5,90.4 984.1,88.2 979.0,85.9 975.0,87.0 970.5,88.7 964.8,88.2 961.4,90.8 953.5,88.7 944.4,87.6 934.1,87.0 927.3,85.3 924.5,83.8 921.6,85.3 913.1,86.7 909.7,89.3 904.6,91.0 905.2,92.7 909.7,94.4 910.3,96.7 914.3,98.0 910.3,99.0 904.6,98.4 902.1,99.9 905.7,102.6 912.5,102.9 916.0,104.1 914.8,105.8 909.7,106.3 905.7,109.7 904.6,111.5 906.9,113.2 908.0,115.4 911.4,116.0 914.3,118.3 920.5,118.3 922.2,119.4 921.6,121.7 918.2,124.0 913.7,126.2 908.0,129.1 903.5,131.3 899.5,134.7 M899.5,134.7 904.6,132.1 910.3,128.7 917.1,125.8 923.9,122.2 929.6,118.3 932.4,114.9 933.6,112.6 937.0,112.4 941.0,112.6 944.4,114.3 950.0,114.9 955.7,115.4 961.4,119.4 964.8,122.8 968.2,126.2 970.5,129.6 973.9,129.6 975.0,131.9 977.9,135.9 979.6,139.9 984.1,142.1 988.7,145.5 989.8,147.8 987.5,150.1 987.0,153.5 M927.3,121.7 930.7,119.4 931.9,121.7 928.5,124.0 927.3,121.7 M881.9,137.6 885.3,137.0 M887.5,136.5 890.4,135.9 M1045.5,56.3 1052.3,55.2 1062.5,52.9 1073.9,51.8 1084.1,51.8 1093.2,52.4 1102.3,53.3 1107.4,54.4 1108.6,56.3 1104.6,57.5 1100.0,59.2 1095.5,60.9 1088.7,61.5 1083.0,62.0 1080.7,64.9 1073.9,67.7 1068.2,69.4 1059.1,70.5 1052.3,71.5 1045.5,72.3 M1109.1,55.2 1116.0,54.1 1125.0,54.9 1135.3,52.9 1139.8,51.8 1146.6,50.7 1159.1,50.7 1168.2,50.7 1176.2,51.2 1181.9,52.9 1187.5,53.7 1189.8,55.8 1204.0,56.9 1193.2,60.3 1189.8,62.6 1188.7,66.0 1191.0,68.3 1186.4,69.4 1185.3,71.7 1191.0,74.0 1187.5,76.2 1185.3,80.8 1183.0,83.0 1180.7,86.5 1177.3,87.6 1170.5,90.4 1164.8,93.3 1159.1,97.8 1153.5,100.1 1147.8,100.7 1148.3,103.5 1145.5,106.9 1144.4,111.5 1141.5,116.0 1138.7,114.9 1134.1,112.6 1129.6,108.0 1126.2,103.5 1123.9,100.1 1122.8,93.3 1123.9,89.9 1121.6,86.5 1119.4,83.0 1117.1,77.4 1113.7,72.3 1108.0,71.1 1100.0,71.1 1096.6,71.7 1093.2,70.5 1091.0,67.1 1087.5,66.0 1085.3,65.1 1088.7,63.7 1095.5,61.5 1100.0,59.2 1104.6,56.9 1109.1,55.2 M1168.2,54.9 1176.2,54.6 1181.9,55.2 M1120.5,85.9 1125.0,84.7 1127.3,87.6 1125.0,89.9 1121.1,88.7 1120.5,85.9 M1180.7,98.4 1184.1,97.8 1188.7,99.0 1194.4,97.3 1198.9,99.0 1200.0,101.2 1197.8,102.9 1193.2,104.1 1189.8,105.8 1184.1,104.6 1181.9,102.4 1180.2,100.1 1180.7,98.4 M1069.9,79.1 1078.5,80.2 1086.4,83.0 1094.4,87.0 1095.5,90.4 1098.9,93.3 1107.4,96.9 1102.3,99.5 1097.2,98.4 1098.9,102.4 1101.7,106.9 1098.3,109.4 1093.2,106.9 1086.4,105.2 1076.2,102.9 1077.3,100.1 1083.0,98.4 1081.9,94.4 1077.3,92.1 1073.9,88.7 1072.8,84.2 1069.9,79.1 M1076.7,88.7 1080.7,90.4 1085.3,93.8 1086.4,95.5 1081.9,96.7 1077.3,94.4 1076.7,88.7 M1075.0,101.2 1079.6,102.4 1084.1,101.2 M1093.8,105.8 1097.8,106.9 1098.9,109.7 1095.5,109.4 1093.8,105.8 M1064.8,108.0 1067.7,108.6 M1071.1,109.2 1072.8,109.7 M1045.5,109.7 1051.2,106.9 1056.9,103.5 1059.7,99.0 M1045.5,118.8 1051.2,121.7 1056.9,124.0 1062.5,127.4 1066.5,128.5 1067.7,134.2 1071.6,139.3 1074.5,135.9 1075.0,128.5 1078.5,122.8 1077.3,118.3 1076.2,112.6 1076.7,109.2 1083.0,108.6 1087.5,110.3 1092.1,113.2 1094.4,118.3 1096.6,119.4 1101.2,114.3 1104.6,118.3 1107.4,124.0 1110.3,127.4 1116.0,130.8 1118.8,134.2 1118.2,137.6 1114.8,138.2 1113.7,142.1 1112.5,146.7 1116.0,149.0 1123.9,149.0 1122.8,144.4 1119.4,141.0 M1118.2,137.6 1113.7,137.6 1109.1,142.1 1102.3,142.1 1096.6,142.7 1089.8,150.7 M1071.6,124.0 1073.3,126.2 M1247.8,60.9 1253.5,60.5 1258.0,62.0 1262.5,59.2 1266.0,59.0 1270.5,59.7 1279.0,59.7 1277.3,61.5 1270.5,62.0 1268.2,63.7 1275.0,66.6 1268.2,67.7 1266.0,66.0 1263.7,63.7 1259.1,67.7 1258.0,70.0 1254.6,68.3 1250.0,65.4 1247.8,62.6 1247.8,60.9 M1237.5,118.3 1237.0,114.9 1235.8,110.3 1237.5,108.0 1243.2,105.8 1246.6,102.4 1250.0,99.0 1252.3,94.4 1256.9,91.0 1261.4,88.7 1267.1,87.6 1271.6,85.3 1277.3,84.7 1281.9,85.3 1285.3,87.6 1291.0,89.9 1297.8,92.7 1304.6,93.8 1306.3,96.7 1304.6,98.4 1300.0,99.5 M1289.3,96.1 1293.2,97.8 1294.4,102.4 1298.9,103.5 1304.6,102.4 1304.6,100.1 1300.0,99.5 M1304.6,98.4 1310.3,98.0 1311.4,95.0 1314.8,93.8 1317.1,96.5 1320.5,94.4 1325.0,91.6 1329.6,91.0 1333.0,92.7 1338.7,91.6 1344.4,90.4 1351.2,89.9 1359.1,92.7 M1359.1,92.7 1355.7,87.6 1356.3,84.2 1361.4,79.1 1363.7,78.5 1366.5,81.9 1367.1,86.5 1368.8,91.0 1370.5,92.1 1368.2,96.1 1364.3,97.8 M1368.2,83.0 1371.6,80.8 1376.2,84.2 1378.5,81.9 1383.0,80.8 1385.3,78.5 1388.7,77.4 1395.5,75.1 M1343.2,87.6 1339.8,85.9 1334.1,84.2 1334.1,80.8 1338.7,76.2 1343.2,73.4 1351.2,71.7 1359.7,70.8 1360.3,69.2 1351.2,70.0 1343.2,71.1 1337.5,72.3 1334.1,74.0 1329.6,79.6 1326.7,83.0 1327.9,85.3 1334.1,85.9 M1320.5,89.3 1322.8,89.9 1321.6,90.4 M1237.5,118.3 1239.8,119.4 1243.2,118.3 1247.2,117.1 1248.9,121.7 1252.3,126.2 1255.7,125.1 1258.0,122.8 1260.3,118.3 1262.5,115.4 1260.3,112.6 1260.3,109.2 1262.5,106.3 1266.0,104.6 1267.1,101.2 1270.5,99.0 1273.9,99.0 1276.2,100.1 1273.9,101.2 1269.4,104.6 1268.2,108.0 1268.2,113.7 1271.6,114.3 1277.3,113.7 1284.7,115.1 1280.7,116.2 1276.2,116.0 1273.9,117.1 1271.6,118.3 1269.4,120.5 1267.1,124.0 1267.1,127.4 1263.7,129.6 1259.1,129.6 1254.6,130.8 1253.5,128.5 1250.0,127.4 M1250.0,127.4 1247.8,125.1 1244.9,123.4 1242.7,124.5 1243.2,127.4 1244.9,129.1 1243.2,130.8 1238.7,133.0 1234.1,136.5 1230.0,140.2 1222.5,144.0 1216.1,145.3 1217.4,147.3 1222.5,149.2 1225.0,152.3 M1270.5,118.3 1272.8,119.4 1273.9,122.8 1271.6,122.8 1270.5,118.3 M1395.5,73.5 1404.9,71.7 1407.2,70.8 1414.2,72.0 1417.7,70.6 1423.6,68.2 1427.1,67.7 1432.9,69.4 1442.3,69.6 1445.8,70.6 1446.9,72.9 1444.6,74.7 1439.9,76.4 1432.9,78.8 M1444.6,75.3 1445.8,77.6 1453.9,78.2 1458.6,79.9 1464.5,78.8 1468.0,78.2 1476.1,79.3 1478.5,84.6 1480.8,85.8 1483.2,83.4 1489.0,83.4 1497.2,83.4 1498.4,81.7 1500.7,80.5 1504.2,80.5 1512.4,81.7 1517.1,82.8 1520.6,85.8 1524.1,85.2 1534.6,85.8 1535.8,88.7 1545.1,89.0 1552.1,88.7 1555.6,90.4 1557.4,88.1 1563.8,88.1 1570.8,88.7 1574.9,89.9 M1403.1,60.1 1410.7,56.8 1415.4,59.5 1420.0,61.8 1424.7,61.8 1430.0,64.1 1425.9,65.9 1420.0,65.9 1418.9,63.6 1410.7,63.6 1403.1,61.8 1403.1,60.1 M1491.9,72.9 1496.0,71.2 1503.0,71.2 1506.5,72.9 1503.0,74.7 1496.0,75.0 1491.9,72.9 M1510.0,73.5 1514.7,72.7 1518.8,74.1 1514.7,75.0 1510.0,73.5 M1498.4,77.6 1503.0,78.2 1501.9,79.3 1498.9,79.9 M1572.0,84.8 1574.9,84.0 M1569.6,102.1 1574.9,101.5 1573.2,105.6 1574.9,108.6 M1559.7,133.7 1562.0,134.9 M987.0,150.5 986.4,159.6 985.8,167.5 988.7,173.2 991.0,178.9 993.2,184.0 997.8,185.7 1000.0,189.1 1002.3,195.4 1004.0,202.8 1009.7,209.6 1014.3,215.8 M1014.3,215.8 1011.4,211.9 1008.0,205.0 1005.7,198.2 1005.2,193.1 1006.9,192.0 1008.0,194.3 1010.3,199.4 1014.8,205.6 1018.2,210.7 1021.6,215.8 1022.2,222.1 1025.0,226.6 1028.5,228.9 1033.0,231.7 1037.5,234.6 1041.0,235.2 1043.2,234.0 1045.5,234.6 M1045.5,197.1 1041.0,200.5 1037.5,202.8 1037.5,209.6 1037.0,218.7 1038.7,223.2 1041.0,227.8 1045.5,228.9 M916.5,217.8 921.1,219.3 925.0,222.1 925.6,226.6 927.3,225.5 M1111.4,150.5 1109.1,152.8 1106.9,153.9 1102.3,154.5 1098.9,156.2 1094.4,157.3 1091.0,159.6 1088.7,163.0 1089.8,165.3 1085.3,166.4 1083.0,168.7 1079.6,171.0 1078.5,174.4 1079.6,177.8 1078.5,182.3 1075.0,184.6 1071.6,188.0 1068.8,191.4 1068.8,196.0 1069.9,201.6 1071.6,206.2 1070.5,209.6 1068.2,207.3 1066.5,198.2 1063.7,196.5 1059.1,195.4 1054.6,194.8 1052.3,196.0 1050.0,197.1 1045.5,197.1 M1098.9,155.0 1100.0,158.5 1102.3,155.6 M1078.5,171.0 1081.9,171.5 1081.3,173.8 1078.5,173.2 M1062.0,218.7 1064.8,216.4 1068.2,215.3 1072.8,217.5 1077.3,219.8 1083.0,223.2 1079.6,223.8 1076.2,223.2 1071.6,220.4 1067.1,218.7 1064.8,219.3 1062.0,218.7 M1085.3,225.5 1088.7,224.4 1093.2,226.6 1094.4,228.9 1091.0,228.9 1087.5,229.5 1081.9,228.3 1085.3,225.5 M1075.0,228.3 1078.5,228.9 1077.3,229.7 1075.0,229.1 1075.0,228.3 M1096.6,228.3 1100.0,228.7 M1073.9,205.0 1077.3,206.2 1078.5,209.6 1076.2,213.0 M1083.0,216.4 1085.3,218.7 1088.1,219.3 M1106.9,234.4 1107.8,234.8 M1045.5,227.8 1050.0,227.8 1052.3,221.0 1053.5,220.0 1059.1,220.0 1056.9,225.5 1055.7,232.3 1054.6,235.2 1058.0,235.2 1063.7,235.2 1066.0,238.0 1064.8,243.7 1064.3,248.2 1067.1,251.6 1068.2,253.9 1070.5,253.3 1072.8,252.2 1075.0,253.3 1077.3,256.7 M1045.5,235.7 1048.9,239.1 1053.5,241.4 1056.9,242.5 1059.1,246.0 1060.8,250.5 1063.7,252.8 1067.1,255.6 1070.5,258.5 1073.3,255.0 1075.0,254.5 M1075.0,254.5 1077.3,252.8 1079.6,249.4 1081.9,247.7 1086.4,246.5 1088.7,244.8 1091.0,246.0 1094.4,249.4 1100.0,250.5 1102.3,249.4 1106.9,249.4 1109.1,250.5 1109.1,253.9 1113.7,259.6 1117.1,261.9 1122.8,262.4 1127.3,266.4 1130.2,275.5 M1077.3,256.7 1076.7,264.1 1076.2,269.8 1073.9,274.4 M1087.5,246.0 1088.7,250.5 1088.1,253.9 1089.3,250.5 M1194.4,244.8 1198.9,249.4 1201.2,256.2 1204.6,260.7 1208.0,264.1 1211.4,267.0 1216.0,264.1 1220.5,263.6 M1193.8,200.5 1196.6,202.8 1200.0,199.4 M1206.6,131.9 1210.0,129.0 1214.6,127.3 1216.9,129.6 1214.6,133.0 1213.5,136.4 1210.0,138.1 1206.6,137.5 1207.8,134.1 1206.6,131.9 M1214.6,120.5 1219.1,122.8 1220.3,125.0 1219.1,127.3 1220.3,130.7 1227.1,131.9 1229.9,135.3 1229.4,138.7 1226.0,139.8 1222.5,141.0 1218.0,142.1 1215.7,141.5 1219.1,138.7 1218.0,135.3 1216.9,131.9 1218.0,128.5 1215.7,125.0 1214.6,120.5 M1224.6,152.3 1224.3,156.9 1224.3,159.7 1214.6,159.7 1210.0,159.7 1208.9,161.4 1209.5,168.2 1208.9,176.2 1211.2,177.3 1214.6,178.5 M1214.6,178.5 1215.7,181.9 1213.5,185.3 1210.0,188.7 1207.8,192.1 1207.8,197.8 1205.5,200.0 1201.0,202.3 1198.7,205.7 1196.4,211.4 1194.1,219.4 1195.3,228.5 1194.1,234.1 1193.0,238.7 1194.1,245.5 M1193.6,200.6 1196.4,202.3 1199.8,198.9 M1214.6,178.5 1218.0,177.3 1222.5,176.2 1226.0,173.9 1227.1,170.5 1228.2,167.1 1231.6,164.8 1232.8,160.3 1236.2,160.3 1239.6,159.1 1243.0,158.0 1245.3,158.0 1248.7,162.5 1253.2,166.0 1257.2,169.4 1258.9,172.8 1256.6,176.2 1260.0,169.4 1261.7,168.2 1258.9,164.8 1254.4,160.3 1250.4,155.2 1252.7,154.0 1257.8,158.6 1263.5,163.1 1264.6,167.1 1268.0,172.8 1270.3,176.2 1270.3,178.5 1272.5,175.0 1271.4,170.5 1270.3,168.2 1274.8,167.1 1279.4,167.1 1283.9,168.2 M1249.8,173.9 1254.4,175.0 1256.1,178.5 1252.1,177.3 1249.8,173.9 M1242.4,162.5 1244.1,161.4 1244.7,166.0 1244.1,172.8 1243.0,171.6 1242.4,166.0 1242.4,162.5 M1231.1,170.5 1232.8,170.5 M1277.1,169.4 1278.2,173.9 1280.5,178.5 1283.9,179.6 1288.5,178.5 1293.0,178.5 1295.8,177.9 1296.4,180.7 1295.3,186.4 1294.1,191.0 1291.9,193.8 M1271.4,182.4 1277.1,182.4 M1289.0,183.0 1291.3,182.2 1293.0,182.8 1289.6,183.7 M1214.6,178.5 1218.0,182.4 1222.5,183.0 1226.0,180.7 1230.5,179.0 1236.2,178.5 1240.7,177.9 1246.4,176.7 1247.5,180.7 1245.8,185.3 1248.7,188.7 1253.2,188.7 1257.8,192.1 1262.3,194.9 1264.6,195.5 1265.2,191.0 1269.1,188.7 1271.4,189.8 1274.8,191.5 1279.4,193.2 1283.9,194.1 1288.5,193.8 1291.9,193.8 M1288.5,193.8 1289.6,197.8 1291.9,202.3 1293.0,208.0 1296.4,214.8 1298.7,220.5 1299.8,227.3 1303.2,234.1 1307.8,241.0 1310.0,245.5 M1291.9,193.8 1290.7,197.8 1293.0,201.2 1294.1,200.0 1294.1,202.3 1299.8,209.1 1302.1,214.8 1302.7,220.5 1306.6,226.2 1308.9,231.9 1310.0,238.7 1310.6,243.2 1316.9,241.0 1322.5,237.5 1328.2,234.1 1332.8,229.6 1337.3,227.3 1339.6,222.8 1341.9,217.1 1343.0,213.7 1339.6,210.3 1336.2,208.0 1335.0,205.2 1330.5,205.7 1327.1,203.5 1324.8,197.8 1321.4,195.5 1319.1,197.8 1322.5,202.3 1326.0,209.1 1327.1,212.5 1331.6,212.5 1333.9,208.0 1335.6,205.2 M1335.6,205.2 1341.9,209.1 1348.7,209.1 1355.5,208.6 M1355.5,208.6 1355.5,209.6 1358.9,214.1 1362.3,216.4 1363.5,221.5 1366.9,218.7 1368.0,227.8 1369.1,234.6 1371.4,240.3 1373.7,247.1 1376.0,255.0 1378.2,255.6 1379.4,251.6 1381.6,247.1 1382.2,235.2 1385.0,233.5 1389.6,228.9 1394.1,224.4 1395.3,219.8 1398.7,218.7 1403.2,216.4 1404.4,219.8 1408.3,225.5 1409.5,234.6 1413.5,235.2 1414.6,232.3 1416.3,238.0 1418.0,244.8 1417.4,249.4 1417.4,255.6 1421.4,261.9 1424.8,267.5 1427.1,273.2 1428.2,275.5 M1428.2,273.2 1423.5,264.1 1419.5,256.5 1419.5,242.5 1420.8,241.4 1423.7,242.5 1427.1,247.1 1430.5,253.9 1432.8,250.5 1437.3,247.1 1437.9,236.9 1435.0,231.2 1431.6,227.8 1431.1,223.2 1433.9,219.8 1437.3,218.7 1439.6,219.8 1445.3,217.5 1452.1,215.3 1455.5,210.7 1457.8,207.3 1461.2,202.8 M1437.3,220.4 1440.2,223.2 1440.2,227.8 1437.9,228.9 1436.7,226.1 1437.3,220.4 M1458.9,210.7 1461.7,209.6 1461.7,215.3 1459.5,218.1 1458.9,214.1 1458.9,210.7 M1380.5,251.6 1383.9,253.9 1385.0,258.5 1383.9,261.9 1381.1,261.3 1380.5,256.2 1380.5,251.6 M1405.5,241.4 1405.5,246.0 M1458.9,228.9 1462.3,227.8 1463.5,231.2 1462.3,235.7 1464.6,240.3 1468.0,242.5 1469.1,247.1 1468.0,249.4 1470.3,252.8 1471.4,258.5 1470.3,261.9 1468.0,262.4 1465.7,259.6 1463.5,252.8 1461.2,248.2 1460.0,241.4 1458.9,235.7 1458.9,228.9 M1452.1,255.0 1454.4,251.6 1458.9,246.5 M1501.7,117.3 1498.7,119.1 1495.0,123.2 1491.4,126.4 1487.8,129.1 1492.3,130.0 1495.0,131.0 1497.8,131.4 1499.6,132.8 1498.7,136.9 1497.8,138.7 1497.8,146.0 1495.0,149.6 1492.3,153.2 1489.6,156.0 1488.7,158.7 1485.0,161.4 1481.4,160.5 1477.8,163.2 1476.9,166.9 1473.2,170.5 1475.0,173.2 1476.9,176.0 1476.9,182.3 1473.2,183.2 1471.0,185.0 1471.4,180.5 1470.5,177.8 1468.7,176.0 1467.8,173.2 1468.7,170.5 1466.9,169.6 1463.2,170.5 1462.3,168.7 1461.4,166.9 1454.1,172.3 1456.9,176.9 1462.3,177.3 1456.9,183.2 1459.6,186.0 1461.4,190.5 1462.3,194.1 1461.0,197.8 1461.4,201.4 1458.7,205.0 1456.9,210.5 M1500.5,133.2 1502.3,131.4 1503.2,134.1 1504.1,137.8 1506.0,143.2 1504.1,145.0 1504.1,151.4 1501.4,152.3 1501.0,146.9 1500.5,137.8 1500.5,133.2 M1500.5,155.0 1502.3,156.9 1504.1,159.6 1507.8,158.2 1508.7,160.5 1506.0,163.2 1503.2,164.1 1500.5,162.3 1497.8,161.9 1496.9,163.2 1497.8,166.0 1500.5,166.9 M1497.8,162.3 1496.9,165.0 1497.3,169.6 1496.0,174.1 1494.1,176.9 1491.4,178.2 1489.6,179.6 1488.7,181.4 1484.1,181.9 1482.3,183.2 1478.7,186.0 1476.9,188.2 1478.7,189.6 1477.8,192.3 1479.6,193.7 1481.4,192.3 1480.5,188.7 1484.1,186.0 1488.7,185.0 1491.4,183.2 1495.0,183.2 1497.8,182.3 1498.7,180.5 1498.7,174.1 1500.5,172.3 1500.5,168.7 1498.7,166.0 1497.8,162.3 M1510.5,157.3 1513.2,155.0 1516.0,153.2 1517.8,151.9 M1559.6,133.7 1562.3,135.0 M1473.7,206.4 1475.0,205.0 M1073.9,273.9 1071.6,276.2 1069.9,280.7 1070.5,285.3 1071.6,287.0 1068.8,291.0 1069.9,295.5 1073.3,301.2 1075.0,305.7 1078.5,312.5 1079.6,317.1 1083.0,320.5 1086.4,323.3 1091.0,327.3 1091.0,341.0 1089.8,350.0 1088.7,356.9 1088.1,367.1 1086.4,375.0 1084.1,379.6 1084.7,384.1 1084.1,391.0 1083.6,395.5 M1129.6,275.0 1128.5,278.5 1127.3,281.9 1129.6,279.6 1133.0,280.7 1136.4,281.9 1139.8,283.0 1141.0,285.3 1148.9,285.8 1154.6,291.0 1159.1,293.8 1159.1,301.2 1154.6,308.0 1151.2,314.8 1151.2,325.0 1149.5,331.9 1146.6,337.5 1144.4,341.0 1139.8,341.5 1134.1,344.9 1133.0,347.8 1133.0,354.6 1130.2,358.0 1129.6,362.5 1126.2,366.0 1121.6,372.8 1117.1,372.8 1113.7,371.1 1116.0,373.9 1116.5,378.5 1114.8,381.9 1111.4,383.6 1105.7,384.1 1105.7,389.8 1101.2,389.8 1101.2,393.2 1102.3,395.5 M1049.5,278.5 1051.2,280.7 M1084.1,395.5 1083.0,400.0 1081.9,405.7 1080.7,410.3 1081.9,417.1 1083.0,421.6 1086.4,425.0 1088.7,427.3 1094.4,429.0 1101.2,427.3 M1101.2,395.5 1101.2,398.9 1097.8,401.2 1096.1,403.5 1097.8,405.7 1100.0,407.4 1096.6,411.4 1093.2,416.0 1092.7,419.4 1095.5,422.8 1098.9,426.7 1101.2,427.3 M1086.4,423.9 1088.7,422.2 1092.1,421.6 1093.2,423.9 1089.8,425.6 1086.4,423.9 M1108.0,418.8 1111.4,417.7 1115.4,418.2 1113.7,419.9 1110.3,419.9 1108.0,418.8 M1152.9,424.8 1157.4,427.9 M1137.0,442.3 1139.8,442.7 M1045.5,475.6 1052.3,475.6 1060.3,476.7 1066.0,478.5 1069.4,477.9 1072.8,475.6 1075.0,475.0 1083.0,475.6 1088.7,475.6 1093.2,475.0 1094.9,471.6 1092.1,468.8 1088.7,466.0 1084.1,467.7 1079.6,470.5 1080.7,472.8 1085.3,473.9 M1093.2,468.2 1096.6,463.7 1097.8,460.8 1101.2,457.4 1104.6,454.0 1108.6,451.7 1113.7,450.0 1119.9,450.6 M1113.7,451.2 1111.4,454.6 1109.1,458.0 1108.6,463.7 1110.3,466.0 1108.6,469.4 1109.7,475.0 1107.4,477.3 1106.9,481.9 1113.7,484.7 1125.0,487.5 1136.4,490.4 1145.5,490.4 1152.3,489.8 1158.0,491.0 1164.8,488.1 1172.8,486.4 1178.5,483.6 1185.3,483.0 1187.5,479.6 1192.1,476.2 1200.0,473.9 1204.6,471.6 1209.1,469.9 1220.5,469.9 M1108.6,448.7 1114.8,447.2 M877.9,491.0 887.5,491.0 895.5,491.0 902.3,491.9 908.0,491.0 913.7,489.8 920.5,489.3 921.6,487.8 929.6,488.1 934.1,487.5 938.7,485.8 943.2,483.9 954.6,483.6 956.9,481.9 964.8,480.7 972.8,480.2 979.6,479.6 981.9,477.9 989.8,479.6 995.5,479.6 1001.2,479.6 1012.5,479.8 1016.0,481.3 1018.2,481.9 1029.6,481.9 1029.6,478.5 1026.2,477.3 1026.2,475.0 1029.6,473.9 1039.8,473.9 1042.1,475.6 1045.5,475.6 M884.1,396.9 885.5,397.5 M891.5,314.7 893.2,315.5 895.5,315.8 M936.4,325.5 938.1,326.6 M883.6,396.9 885.8,397.1 M1221.0,264.0 1223.2,264.6 1226.6,261.7 1231.2,260.6 1235.2,261.2 1236.9,263.5 1237.4,266.3 1240.3,266.6 1243.7,266.3 1245.4,269.7 1244.8,273.7 1244.3,282.8 1248.2,288.5 1249.4,291.9 1250.5,295.3 1252.2,298.7 1252.2,303.2 1253.9,308.9 1252.2,312.3 1250.5,314.6 1249.4,320.3 1248.8,327.1 1250.5,330.5 1252.8,335.0 1255.0,340.7 1255.0,346.4 1256.2,352.1 1256.7,355.5 M1311.3,247.5 1313.0,249.8 1317.5,248.7 1322.1,247.0 1324.9,245.8 1324.9,253.2 1322.1,257.8 1321.0,262.3 1318.7,265.7 1317.5,269.1 1313.0,272.5 1309.6,276.0 1307.3,279.4 1306.2,282.8 1303.9,285.0 1302.8,289.6 1301.6,291.9 1302.8,298.7 1302.8,304.4 1304.5,306.6 1304.5,321.4 1302.8,323.7 1300.5,324.8 1298.2,327.1 1296.0,330.5 1293.7,333.3 1294.8,336.2 1294.8,344.7 1290.3,347.0 1289.7,355.5 M1322.1,310.6 1323.8,314.6 1323.8,319.1 1322.1,326.0 1319.8,336.2 1318.7,341.9 1317.0,346.4 1314.1,348.1 1310.7,345.3 1310.2,337.3 1313.0,332.8 1311.9,327.1 1311.9,322.5 1314.1,321.4 1318.7,318.0 1319.8,314.6 1322.1,310.6 M1330.0,244.1 1332.3,244.7 M1332.3,334.5 1335.2,336.2 M1338.0,332.8 1338.6,333.9 M1257.0,355.5 1259.1,357.5 1260.8,363.2 1262.0,370.0 1264.8,372.9 1269.4,371.2 1276.2,370.6 1279.6,369.5 1282.4,365.5 1285.3,362.1 1285.8,359.8 1289.3,355.8 M1359.7,411.5 1363.1,412.7 M1220.5,468.8 1234.1,468.8 1243.1,468.8 1254.4,467.2 1265.7,468.8 1272.5,469.5 1281.6,467.6 1292.9,464.9 1299.7,467.6 1304.2,464.3 1311.0,462.0 1320.0,460.9 1329.1,456.8 1335.9,458.6 1342.7,462.0 1356.3,462.7 1363.0,464.3 1369.8,467.6 1374.3,466.5 1378.9,462.7 1385.7,459.1 1397.0,458.1 M1410.7,262.8 1413.0,263.4 1416.5,265.7 1418.9,270.4 1422.4,275.0 1425.9,278.6 1429.4,283.2 1430.6,287.9 1430.6,292.6 1428.2,292.0 1423.6,286.7 1421.2,282.1 1418.9,278.6 1416.5,273.9 1414.2,269.2 1411.9,265.7 1410.7,262.8 M1414.8,273.9 1416.0,275.6 M1417.7,280.9 1418.9,282.6 M1436.4,275.0 1439.9,271.5 1444.6,268.0 1449.3,263.4 1452.8,259.3 1456.3,263.9 1455.1,268.0 1456.3,275.0 1453.9,277.4 1451.6,285.6 1449.3,289.1 1444.6,287.9 1439.9,285.6 1439.3,278.6 1436.4,275.0 M1430.6,293.2 1432.9,296.1 1437.6,297.3 1444.6,297.8 1446.9,300.2 1451.6,301.3 1458.6,301.9 1465.6,301.3 1472.6,300.2 1470.3,301.9 1463.3,302.5 1456.3,302.5 1450.4,301.9 1445.8,300.8 1439.9,299.6 1435.2,298.4 1431.7,296.7 M1456.3,304.3 1459.2,304.8 1461.0,305.4 M1465.6,304.8 1468.0,303.7 M1458.6,275.6 1463.3,275.0 1468.0,274.5 1465.6,277.4 1462.1,278.6 1461.0,282.1 1463.3,280.9 1465.6,280.9 1461.0,284.4 1461.0,289.1 1463.3,292.6 1461.0,293.2 1458.6,290.2 1457.4,285.6 1456.9,280.9 1458.6,275.6 M1472.6,272.1 1475.0,273.9 1473.8,278.6 1473.2,282.1 M1470.3,286.7 1475.0,286.1 1479.7,287.3 1482.0,286.7 M1478.5,278.6 1482.0,279.7 1485.5,282.1 1487.8,284.4 1492.5,282.1 1500.7,285.6 1506.5,289.1 1512.4,293.7 1515.9,292.6 1520.6,291.4 1522.9,289.1 1519.4,285.6 1517.1,283.2 M1487.8,284.4 1486.7,286.7 1491.3,290.2 1494.8,293.7 1493.7,299.6 1496.0,301.9 1500.7,303.1 1505.4,299.6 1508.9,298.4 1512.4,303.1 1514.7,305.4 1517.6,306.6 1514.7,304.3 1511.2,297.3 1512.4,293.7 M1479.7,298.4 1480.8,299.6 M1486.1,293.7 1486.7,296.7 M1526.4,293.7 1531.1,297.3 1535.8,300.8 1538.1,304.3 1541.0,307.8 M1548.6,318.3 1550.9,322.4 M1543.9,332.3 1549.8,339.3 M1569.6,325.3 1572.0,323.0 1575.5,324.1 1572.0,326.5 M1446.9,337.6 1451.6,334.7 1459.8,331.1 1463.3,326.5 1465.6,323.0 1469.1,318.3 1472.6,316.0 1476.1,319.5 1478.5,316.0 1479.7,311.3 1482.0,309.5 1486.7,310.7 1491.3,311.3 1489.0,318.3 1492.5,323.0 1497.2,326.5 1499.5,323.0 1500.7,316.0 1501.9,307.8 1504.2,316.0 1507.7,318.3 1508.9,326.5 1511.2,331.1 1514.7,333.5 1517.1,339.3 1520.6,344.0 1522.9,347.5 1524.1,355.7 1521.7,363.9 1518.2,372.1 1517.1,375.6 M1446.9,337.6 1445.8,344.0 1446.3,351.0 1447.5,354.5 1449.3,359.2 1450.4,363.9 1449.8,369.7 1451.6,373.2 1456.3,372.1 1462.1,369.7 1468.0,367.4 1475.0,364.5 1480.8,363.9 1485.5,365.6 1489.0,369.7 1491.3,373.2 1493.7,375.6 M1561.5,372.1 1564.4,374.4 M1493.7,373.4 1496.0,375.7 1497.2,379.2 1499.5,382.1 1503.0,383.3 1506.5,381.5 1510.0,383.9 1513.5,381.5 1517.1,381.0 1517.1,374.5 M1490.2,369.3 1491.9,374.5 1493.7,373.4 M1506.5,389.1 1510.0,388.6 1513.5,389.7 1514.1,392.6 1510.6,396.7 1507.7,393.2 1506.5,389.1 M1560.9,371.6 1563.8,375.7 1566.1,378.0 1567.3,381.5 1570.8,381.0 1571.4,383.3 1568.5,385.6 1567.3,389.7 1565.0,390.3 1563.8,388.6 1562.6,385.6 1560.3,389.1 1558.0,392.1 1554.5,395.6 1549.8,399.1 1548.6,402.6 1551.5,406.1 1555.6,404.3 1558.0,400.2 1561.5,395.6 1565.0,390.9 1567.3,389.7 M1395.5,457.5 1399.0,459.8 1404.9,459.8 1409.5,459.3 1411.9,455.2 1416.5,454.0 1418.9,456.9 1424.7,455.8 1428.2,458.1 1436.4,459.8 1442.3,457.5 1445.8,457.3 1448.1,458.7 1453.9,459.8 1459.8,459.8 1465.6,458.1 1471.5,458.7 1476.1,460.4 1479.7,457.7 1486.7,457.5 1489.0,458.7 1496.0,459.3 1503.0,460.4 1507.7,461.0 1512.4,463.4 1518.2,464.5 1524.1,465.7 1529.9,466.9 1535.8,468.6 1542.8,470.4 1547.4,471.5 1554.5,472.1 1556.8,473.3 1554.5,476.2 1548.6,478.5 1545.1,480.9 1541.6,484.4 1541.6,489.1 1543.9,491.4 1550.9,492.0 1559.1,491.4 1568.5,493.7 1574.3,494.9 M985.8,70.8 988.0,69.6 991.7,67.7 996.1,67.4 1000.5,67.1 1003.6,65.8 1008.0,64.9 1016.1,64.9 1013.0,66.4 1008.0,67.1 1004.3,68.0 1000.5,69.3 997.4,70.2 994.3,71.7 991.1,72.1 988.0,71.7 985.8,70.8 M998.6,73.0 999.3,71.1 1003.6,69.9 1008.0,71.1 1013.0,72.4 1014.3,73.6 1010.5,74.9 1006.7,75.5 1004.3,74.3 1000.5,73.6 998.6,73.0 M1012.4,70.5 1014.9,69.3 1018.0,71.1 1021.7,72.4 1020.5,73.6 1016.1,73.6 1013.0,73.0 M1020.8,62.7 1023.0,61.9 1025.5,62.7 1030.5,62.7 1033.0,64.3 1033.0,65.5 1029.9,65.5 1026.1,64.6 1023.0,63.6 M1021.7,67.1 1023.6,67.4 1024.3,70.5 1024.9,73.0 1025.5,73.9 1028.0,73.6 1031.7,73.9 1036.1,73.6 1036.7,71.7 1034.3,70.5 1030.5,70.5 1028.6,71.1 1026.7,70.5 M1043.0,58.6 1045.5,57.1 1049.3,57.1 1050.5,58.6 1053.6,58.9 1058.6,59.9 1059.9,61.7 1056.7,63.6 1053.6,65.5 1049.3,65.5 1046.7,64.3 1045.5,62.4 1043.0,61.1 1043.0,58.6 M1037.4,64.3 1039.9,64.9 1043.0,66.1 1046.1,66.7 1050.5,66.7 1056.7,66.1 1059.9,64.9 M1039.9,68.0 1043.0,68.6 1050.5,69.3 1055.5,69.3 1059.9,70.5 1066.1,70.5 1071.7,69.3 1075.5,66.7 M1040.5,73.6 1043.0,73.0 1044.9,73.9 1043.0,74.9 1040.5,74.3 M1048.0,71.7 1050.5,71.1 1054.3,70.5 1056.7,71.7 1063.0,71.7 1069.3,71.7 1071.7,73.0 1069.3,74.9 1063.0,74.9 1056.7,75.5 1050.5,75.5 1048.0,74.3 1048.0,71.7 M988.0,75.8 998.6,75.8 1003.0,78.0 1008.0,79.9 1016.1,80.2 1019.3,78.0 1023.0,78.3 1024.3,79.6 1021.7,80.8 1023.6,83.0 1024.9,85.5 1029.3,86.7 1031.7,87.1 1031.7,89.3 1028.6,90.2 1024.3,89.3 1020.5,89.3 1018.0,90.5 M984.3,81.7 986.7,79.6 987.4,76.7 M984.3,81.7 987.4,83.6 988.6,84.9 993.6,83.9 996.7,81.4 1001.1,79.6 M1000.5,85.8 1004.3,86.4 1009.3,86.7 M1026.7,79.9 1030.5,80.5 1033.0,82.4 1035.5,83.6 1039.3,83.0 1039.9,80.5 1038.0,78.0 1034.3,77.1 1030.5,76.7 M1041.7,77.4 1044.3,76.7 1050.5,76.4 1056.7,76.7 1063.0,76.4 1069.3,76.4 1075.5,76.7 M1041.7,78.0 1042.4,82.4 1044.3,83.0 1049.3,85.5 1050.5,87.4 1049.3,89.3 1052.4,90.5 1053.6,92.4 1055.5,93.6 1056.7,94.9 1059.3,93.6 1060.5,89.3 1063.0,89.3 1066.7,89.3 1069.3,90.5 1068.6,94.3 1065.5,96.7 1060.5,97.4 M1038.6,86.1 1040.5,84.3 1043.0,83.6 1045.5,85.5 1048.6,86.1 M1034.3,90.5 1037.4,88.0 1041.1,89.3 1044.3,88.6 1043.6,91.1 1040.5,93.0 1039.3,94.3 1038.6,91.7 M1051.7,79.3 1054.3,78.0 1056.7,78.6 M1051.7,80.5 1052.4,84.3 1055.5,86.7 1058.6,88.0 1063.0,88.6 1068.0,88.6 1071.7,88.0 1075.5,87.4 M1059.3,79.3 1060.5,80.5 1061.7,83.0 M1069.3,79.3 1071.7,78.0 1075.5,77.7 M1069.9,81.7 1073.0,81.1 1075.5,80.5 M975.5,88.0 978.6,86.1 983.0,88.6 985.5,88.0 987.4,89.9 989.3,88.0 993.0,88.6 998.0,90.2 1003.0,91.7 1004.3,93.6 1008.0,93.9 1013.0,93.0 1016.1,93.6 1018.0,91.7 1020.5,91.1 1023.0,92.1 1025.5,93.0 1029.9,93.6 1035.5,93.3 M1051.6,103.0 1050.8,106.2 1045.0,110.3 1043.4,112.8 1043.0,117.7 1046.7,120.1 1048.3,122.6 1053.2,124.2 1059.0,126.7 1066.3,128.3 M1051.6,103.0 1056.5,101.3 1059.0,98.1 1060.6,97.2 1066.3,96.4 1069.6,94.8 1068.8,89.9 1071.2,88.2 1076.1,86.6 M1059.0,103.8 1064.7,103.0 1069.6,104.6 1071.2,105.4 1066.3,105.8 1064.7,107.9 1061.4,105.4 1059.0,103.8 M1543.4,108.5 1544.6,111.0 1540.9,117.3 1542.1,121.1 1540.9,126.2 1535.8,133.7 1532.0,137.5 1527.0,141.9 1527.6,124.9 1532.0,121.1 1537.7,114.8 1543.4,109.7 M1501.7,117.3 1519.4,116.7 1525.7,114.2 1532.0,110.4 1537.1,109.7 1539.6,111.0 1543.4,108.5 M1544.6,114.8 1550.9,113.5 1557.3,111.0 1563.6,109.1 1569.9,107.8 1574.9,108.5" fill="none" stroke="#000000" stroke-width="1" shape-rendering="crispEdges"/>
<text x="871.5" y="277.5" font-size="9" text-anchor="middle" fill="#000000">0</text>
<rect x="870" y="28" width="712" height="1" fill="#000000"/>
<rect x="870" y="527" width="712" height="1" fill="#000000"/>
<rect x="870" y="28" width="1" height="500" fill="#000000"/>
<rect x="1581" y="28" width="1" height="500" fill="#000000"/>
<text x="935" y="523" font-size="11" text-anchor="middle" fill="#000000">−150</text>
<text x="993" y="523" font-size="11" text-anchor="middle" fill="#000000">−120</text>
<text x="1051" y="523" font-size="11" text-anchor="middle" fill="#000000">−90</text>
<text x="1110" y="523" font-size="11" text-anchor="middle" fill="#000000">−60</text>
<text x="1168" y="523" font-size="11" text-anchor="middle" fill="#000000">−30</text>
<text x="1226" y="523" font-size="11" text-anchor="middle" fill="#000000">0</text>
<text x="1284" y="523" font-size="11" text-anchor="middle" fill="#000000">30</text>
<text x="1342" y="523" font-size="11" text-anchor="middle" fill="#000000">60</text>
<text x="1400" y="523" font-size="11" text-anchor="middle" fill="#000000">90</text>
<text x="1458" y="523" font-size="11" text-anchor="middle" fill="#000000">120</text>
<text x="1516" y="523" font-size="11" text-anchor="middle" fill="#000000">150</text>
<text x="1574" y="523" font-size="11" text-anchor="middle" fill="#000000">180</text>
<rect x="1287" y="203" width="5" height="5" fill="#00ff00"/>
<rect x="1288" y="207" width="4" height="7" fill="#00ff00"/>
<rect x="1289" y="202" width="1" height="1" fill="#00ff00"/>
<rect x="1287" y="193" width="1" height="1" fill="#00ff00"/>
<rect x="1288" y="194" width="1" height="1" fill="#00ff00"/>
<rect x="1289" y="193" width="1" height="4" fill="#00ff00"/>
<rect x="1290" y="194" width="1" height="1" fill="#00ff00"/>
<rect x="1291" y="193" width="1" height="1" fill="#00ff00"/>
<rect x="1287" y="196" width="1" height="1" fill="#00ff00"/>
<rect x="1288" y="195" width="1" height="1" fill="#00ff00"/>
<rect x="1290" y="195" width="1" height="1" fill="#00ff00"/>
<rect x="1291" y="196" width="1" height="1" fill="#00ff00"/>
</svg></body></html>
